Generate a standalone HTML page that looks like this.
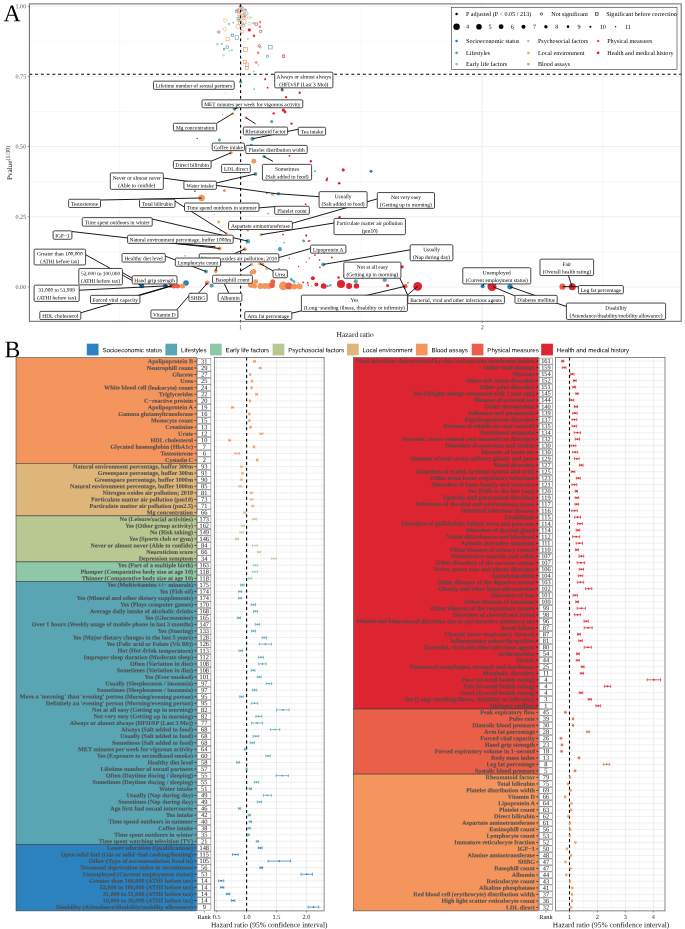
<!DOCTYPE html>
<html><head><meta charset="utf-8"><title>Figure</title><style>html,body{margin:0;padding:0;background:#fff}body{width:685px;height:929px;overflow:hidden;font-family:"Liberation Serif",serif}</style></head><body>
<svg width="685" height="929" viewBox="0 0 685 929" text-rendering="geometricPrecision" style="display:block;font-family:'Liberation Serif',serif">
<rect width="685" height="929" fill="#fff"/>
<g opacity="0.999">
<g id="panelA">
<rect x="29.4" y="3.9" width="651.8000000000001" height="317.40000000000003" fill="#fff"/>
<path d="M29.4 251.82H681.2M29.4 181.67H681.2M29.4 111.52H681.2M29.4 41.37H681.2M119.80 3.9V321.3M361.40 3.9V321.3M603.00 3.9V321.3" stroke="#efefef" stroke-width="0.45" fill="none"/>
<path d="M29.4 286.90H681.2M29.4 216.75H681.2M29.4 146.60H681.2M29.4 76.45H681.2M29.4 6.30H681.2M240.60 3.9V321.3M482.20 3.9V321.3" stroke="#e6e6e6" stroke-width="0.65" fill="none"/>
<path d="M27.7 286.90h1.7M27.7 216.75h1.7M27.7 146.60h1.7M27.7 76.45h1.7M27.7 6.30h1.7M240.60 321.3v1.7M482.20 321.3v1.7" stroke="#333" stroke-width="0.5" fill="none"/>
<text transform="matrix(1 .0006 0 1 26.2 288.90)" font-size="6.15" text-anchor="end" fill="#4d4d4d">0.00</text>
<text transform="matrix(1 .0006 0 1 26.2 218.75)" font-size="6.15" text-anchor="end" fill="#4d4d4d">0.25</text>
<text transform="matrix(1 .0006 0 1 26.2 148.60)" font-size="6.15" text-anchor="end" fill="#4d4d4d">0.50</text>
<text transform="matrix(1 .0006 0 1 26.2 78.45)" font-size="6.15" text-anchor="end" fill="#4d4d4d">0.75</text>
<text transform="matrix(1 .0006 0 1 26.2 8.30)" font-size="6.15" text-anchor="end" fill="#4d4d4d">1.00</text>
<text transform="matrix(1 .0006 0 1 240.60 329.2)" font-size="6.15" text-anchor="middle" fill="#4d4d4d">1</text>
<text transform="matrix(1 .0006 0 1 482.20 329.2)" font-size="6.15" text-anchor="middle" fill="#4d4d4d">2</text>
<text transform="matrix(1 .0006 0 1 336.5 337)" font-size="7.5" fill="#111">Hazard ratio</text>
<text transform="matrix(.0006 -1 1 0 12.1 180.1)" font-size="7.2" fill="#111">Pvalue<tspan dy="-2.3" font-size="6.0">(1/30)</tspan></text>
<text transform="matrix(1 .0006 0 1 3.6 21.2)" font-size="23.8" fill="#000">A</text>
<g fill="none" stroke-width="0.62"><circle cx="245.5" cy="9.9" r="0.90" stroke="#dc2530"/><rect x="235.25" y="10.15" width="2.50" height="2.50" stroke="#5aa5b3"/><rect x="236.95" y="17.45" width="2.50" height="2.50" stroke="#5aa5b3"/><circle cx="239.1" cy="14.6" r="1.70" stroke="#f4955d"/><circle cx="246.4" cy="13.6" r="1.70" stroke="#5aa5b3"/><circle cx="243.8" cy="21.9" r="2.70" stroke="#f4955d"/><circle cx="238.2" cy="26.3" r="2.20" stroke="#f4955d"/><circle cx="242.3" cy="31.4" r="1.70" stroke="#f4955d"/><circle cx="225.3" cy="20.4" r="1.70" stroke="#deb67a"/><circle cx="224.8" cy="29.2" r="1.70" stroke="#deb67a"/><circle cx="229.2" cy="24.1" r="0.90" stroke="#5aa5b3"/><circle cx="233.3" cy="22.6" r="0.70" stroke="#5aa5b3"/><circle cx="249.6" cy="23.8" r="1.70" stroke="#b9c791"/><circle cx="248.6" cy="17.8" r="1.20" stroke="#b9c791"/><circle cx="251.1" cy="17.5" r="0.90" stroke="#b9c791"/><circle cx="253.6" cy="23.1" r="0.90" stroke="#5aa5b3"/><circle cx="256.2" cy="24.1" r="1.50" stroke="#dc2530"/><circle cx="260.1" cy="22.2" r="0.90" stroke="#dc2530"/><circle cx="259.9" cy="26.7" r="0.90" stroke="#dc2530"/><circle cx="260.6" cy="31.4" r="1.20" stroke="#dc2530"/><circle cx="218.7" cy="32.1" r="1.20" stroke="#dc2530"/><rect x="231.15" y="34.05" width="2.50" height="2.50" stroke="#2b82be"/><rect x="235.15" y="35.75" width="3.50" height="3.50" stroke="#5aa5b3"/><rect x="225.95" y="37.25" width="3.50" height="3.50" stroke="#deb67a"/><rect x="247.30" y="38.50" width="1.20" height="1.20" stroke="#b9c791"/><circle cx="217.5" cy="44.2" r="0.90" stroke="#5aa5b3"/><rect x="221.30" y="43.20" width="1.20" height="1.20" stroke="#5aa5b3"/><rect x="226.05" y="45.95" width="2.50" height="2.50" stroke="#5aa5b3"/><rect x="223.35" y="48.55" width="1.50" height="1.50" stroke="#5aa5b3"/><circle cx="229.2" cy="50.7" r="0.70" stroke="#b9c791"/><circle cx="231.8" cy="50.1" r="0.60" stroke="#5aa5b3"/><circle cx="223.4" cy="55.2" r="0.90" stroke="#b9c791"/><rect x="243.50" y="47.30" width="4.00" height="4.00" stroke="#f4955d"/><circle cx="259.1" cy="45.7" r="1.20" stroke="#dc2530"/><circle cx="260.3" cy="47.2" r="0.90" stroke="#5aa5b3"/><rect x="268.65" y="45.45" width="3.50" height="3.50" stroke="#5aa5b3"/><circle cx="258.1" cy="52.8" r="0.90" stroke="#dc2530"/><rect x="266.40" y="55.20" width="2.00" height="2.00" stroke="#5aa5b3"/><rect x="282.25" y="54.95" width="2.50" height="2.50" stroke="#dc2530"/><rect x="243.30" y="60.30" width="3.00" height="3.00" stroke="#f4955d"/><rect x="245.25" y="62.95" width="3.50" height="3.50" stroke="#f4955d"/><rect x="245.50" y="66.40" width="3.00" height="3.00" stroke="#f4955d"/><circle cx="256.2" cy="62.5" r="0.90" stroke="#dc2530"/><circle cx="258.4" cy="65" r="0.70" stroke="#b9c791"/><circle cx="253.7" cy="71.5" r="0.70" stroke="#8fc8a7"/><circle cx="240.3" cy="9.5" r="1.90" stroke="#f4955d"/><circle cx="241.5" cy="12.5" r="2.20" stroke="#f4955d"/><circle cx="242.5" cy="8.8" r="1.50" stroke="#5aa5b3"/><circle cx="241.8" cy="7.5" r="1.20" stroke="#8fc8a7"/><rect x="238.00" y="9.00" width="3.00" height="3.00" stroke="#f4955d"/><circle cx="237.2" cy="10.2" r="1.20" stroke="#5aa5b3"/><circle cx="240.5" cy="17" r="2.20" stroke="#f4955d"/><rect x="238.00" y="19.50" width="2.00" height="2.00" stroke="#5aa5b3"/><circle cx="244.5" cy="17.5" r="1.70" stroke="#f4955d"/><circle cx="244.2" cy="14.2" r="1.20" stroke="#5aa5b3"/><circle cx="242.2" cy="10.5" r="1.00" stroke="#8fc8a7"/><circle cx="243" cy="25.5" r="1.70" stroke="#5aa5b3"/><circle cx="241" cy="23.5" r="2.70" stroke="#f4955d"/><circle cx="240.2" cy="6.8" r="1.20" stroke="#f4955d"/><circle cx="244.5" cy="16.5" r="0.70" stroke="#dc2530"/></g>
<g><circle cx="240.1" cy="6.1" r="0.90" fill="#dc2530"/><circle cx="249.3" cy="29.9" r="1.60" fill="#dc2530"/><circle cx="254" cy="35.8" r="1.20" fill="#dc2530"/><circle cx="265.3" cy="78.8" r="0.90" fill="#dc2530"/><circle cx="240.7" cy="81.9" r="1.70" fill="#5aa5b3"/><circle cx="282.2" cy="90.1" r="1.70" fill="#5aa5b3"/><circle cx="234.3" cy="109.1" r="1.70" fill="#5aa5b3"/><circle cx="232.8" cy="113.4" r="1.50" fill="#deb67a"/><circle cx="246" cy="117.8" r="1.50" fill="#f4955d"/><circle cx="252.4" cy="138.8" r="2.10" fill="#5aa5b3"/><circle cx="251.2" cy="145.5" r="1.70" fill="#5aa5b3"/><circle cx="264.1" cy="156.4" r="1.70" fill="#5aa5b3"/><circle cx="253.8" cy="161.2" r="2.40" fill="#f4955d"/><circle cx="231.1" cy="152.8" r="1.60" fill="#f4955d"/><circle cx="255.5" cy="173.9" r="1.90" fill="#5aa5b3"/><circle cx="265" cy="79.6" r="0.80" fill="#dc2530"/><circle cx="267.6" cy="87.7" r="0.90" fill="#dc2530"/><circle cx="254.2" cy="89.2" r="0.90" fill="#8fc8a7"/><circle cx="299.7" cy="92.7" r="1.20" fill="#dc2530"/><circle cx="286" cy="97.1" r="1.20" fill="#dc2530"/><circle cx="225.3" cy="93" r="0.60" fill="#b9c791"/><circle cx="283.4" cy="110.2" r="1.60" fill="#dc2530"/><circle cx="285.1" cy="112" r="1.40" fill="#dc2530"/><circle cx="273.7" cy="113.4" r="1.20" fill="#dc2530"/><circle cx="271.7" cy="121.6" r="1.60" fill="#5aa5b3"/><circle cx="291.5" cy="123.6" r="1.20" fill="#dc2530"/><circle cx="197.2" cy="138.5" r="0.80" fill="#dc2530"/><circle cx="219.4" cy="140" r="1.60" fill="#5aa5b3"/><circle cx="222.6" cy="114.6" r="0.50" fill="#5aa5b3"/><circle cx="289.5" cy="155.8" r="0.90" fill="#dc2530"/><circle cx="310.8" cy="161.3" r="1.20" fill="#dc2530"/><circle cx="314.9" cy="171.2" r="0.90" fill="#5aa5b3"/><circle cx="327.2" cy="178.2" r="0.90" fill="#dc2530"/><circle cx="216.8" cy="150.8" r="0.60" fill="#5aa5b3"/><circle cx="230.8" cy="152.9" r="1.40" fill="#f4955d"/><circle cx="343.2" cy="169.9" r="1.60" fill="#dc2530"/><circle cx="371" cy="171.3" r="1.50" fill="#2b82be"/><circle cx="326.7" cy="180" r="1.20" fill="#dc2530"/><circle cx="339.2" cy="183.2" r="1.30" fill="#dc2530"/><circle cx="274" cy="181.5" r="0.80" fill="#8fc8a7"/><circle cx="266.7" cy="193.2" r="0.90" fill="#5aa5b3"/><circle cx="272.6" cy="194.4" r="1.70" fill="#b9c791"/><circle cx="278.4" cy="193.8" r="1.70" fill="#5aa5b3"/><circle cx="224.4" cy="190.5" r="1.50" fill="#f4955d"/><circle cx="194.9" cy="191.2" r="0.90" fill="#2b82be"/><circle cx="201.6" cy="198" r="3.20" fill="#f4955d"/><circle cx="214.2" cy="214.6" r="0.50" fill="#5aa5b3"/><circle cx="208.9" cy="217.8" r="0.50" fill="#5aa5b3"/><circle cx="218.6" cy="221.9" r="1.60" fill="#deb67a"/><circle cx="220.6" cy="231" r="0.90" fill="#deb67a"/><circle cx="305.6" cy="204.2" r="0.90" fill="#dc2530"/><circle cx="268.2" cy="213.6" r="0.80" fill="#5aa5b3"/><circle cx="339.6" cy="217.3" r="1.30" fill="#dc2530"/><circle cx="226.4" cy="233.6" r="1.40" fill="#f4955d"/><circle cx="247.7" cy="230.3" r="1.30" fill="#f4955d"/><circle cx="260.9" cy="234.7" r="1.60" fill="#deb67a"/><circle cx="283.0" cy="234.6" r="0.90" fill="#dc2530"/><circle cx="306.4" cy="235.7" r="0.90" fill="#dc2530"/><circle cx="308.6" cy="241.1" r="0.90" fill="#dc2530"/><circle cx="304" cy="241.1" r="1.20" fill="#5aa5b3"/><circle cx="247.9" cy="241.2" r="2.20" fill="#5aa5b3"/><circle cx="219.6" cy="248.6" r="2.00" fill="#f4955d"/><circle cx="214.8" cy="246.7" r="1.50" fill="#deb67a"/><circle cx="244.8" cy="249.2" r="1.90" fill="#f4955d"/><circle cx="279.9" cy="249.2" r="2.10" fill="#5aa5b3"/><circle cx="246.3" cy="243.8" r="0.50" fill="#5aa5b3"/><circle cx="245.5" cy="249.3" r="0.50" fill="#5aa5b3"/><circle cx="276.4" cy="241.1" r="0.50" fill="#8fc8a7"/><circle cx="314.9" cy="255.1" r="0.90" fill="#dc2530"/><circle cx="331.8" cy="257.4" r="0.90" fill="#dc2530"/><circle cx="319.6" cy="260.1" r="0.80" fill="#dc2530"/><circle cx="309.2" cy="258.3" r="0.70" fill="#dc2530"/><circle cx="306.2" cy="262.1" r="0.70" fill="#dc2530"/><circle cx="289.3" cy="258.3" r="0.70" fill="#dc2530"/><circle cx="298.6" cy="266.5" r="0.70" fill="#dc2530"/><circle cx="279" cy="268.8" r="0.70" fill="#dc2530"/><circle cx="306.2" cy="235.3" r="0.90" fill="#dc2530"/><circle cx="309.7" cy="240.8" r="0.80" fill="#dc2530"/><circle cx="303.3" cy="240.8" r="1.20" fill="#5aa5b3"/><circle cx="284" cy="242.6" r="0.80" fill="#5aa5b3"/><circle cx="311.5" cy="175.5" r="0.70" fill="#dc2530"/><circle cx="323.2" cy="264.5" r="2.10" fill="#5aa5b3"/><circle cx="319.9" cy="267.4" r="0.80" fill="#dc2530"/><circle cx="206" cy="271.6" r="2.00" fill="#5aa5b3"/><circle cx="215.7" cy="271.1" r="2.00" fill="#f4955d"/><circle cx="253.6" cy="271.6" r="2.70" fill="#f4955d"/><circle cx="251.6" cy="272.4" r="2.00" fill="#f4955d"/><circle cx="251.3" cy="264.5" r="1.60" fill="#f4955d"/><circle cx="259.9" cy="263.7" r="1.70" fill="#f4955d"/><circle cx="262.7" cy="264.2" r="1.50" fill="#f4955d"/><circle cx="266.5" cy="268.8" r="1.30" fill="#deb67a"/><circle cx="185" cy="255.8" r="0.60" fill="#dc2530"/><circle cx="141.8" cy="285.8" r="2.50" fill="#2b82be"/><circle cx="165.2" cy="285.8" r="2.10" fill="#2b82be"/><circle cx="186.0" cy="283.0" r="2.80" fill="#2b82be"/><circle cx="171" cy="285.9" r="2.10" fill="#e95f47"/><circle cx="174" cy="286.2" r="2.30" fill="#e95f47"/><circle cx="177.7" cy="286.2" r="2.40" fill="#e95f47"/><circle cx="182.6" cy="286" r="2.50" fill="#f4955d"/><circle cx="207.3" cy="282.8" r="2.30" fill="#f4955d"/><circle cx="206.2" cy="283.6" r="1.40" fill="#e95f47"/><circle cx="211.6" cy="285.6" r="2.10" fill="#5aa5b3"/><circle cx="251.0" cy="284.7" r="3.10" fill="#f4955d"/><circle cx="255.7" cy="281.7" r="2.40" fill="#f4955d"/><circle cx="254.5" cy="286.1" r="2.50" fill="#f4955d"/><circle cx="260.4" cy="285.9" r="3.00" fill="#f4955d"/><circle cx="265.0" cy="285.9" r="3.00" fill="#f4955d"/><circle cx="269.2" cy="285.9" r="3.00" fill="#f4955d"/><circle cx="272.7" cy="281.7" r="2.50" fill="#e95f47"/><circle cx="272.0" cy="285.2" r="2.80" fill="#e95f47"/><circle cx="283.3" cy="285.9" r="4.30" fill="#f4955d"/><circle cx="288.9" cy="285.9" r="3.50" fill="#e95f47"/><circle cx="294.2" cy="286.4" r="3.00" fill="#f4955d"/><circle cx="299.6" cy="286.4" r="2.90" fill="#f4955d"/><circle cx="291.2" cy="279.4" r="1.40" fill="#5aa5b3"/><circle cx="292.6" cy="280.6" r="1.20" fill="#5aa5b3"/><circle cx="294.2" cy="281.7" r="1.20" fill="#5aa5b3"/><circle cx="298.4" cy="282.9" r="0.60" fill="#5aa5b3"/><circle cx="303.1" cy="282.4" r="0.90" fill="#dc2530"/><circle cx="307.8" cy="282.9" r="0.90" fill="#dc2530"/><circle cx="308.3" cy="285.2" r="0.80" fill="#dc2530"/><circle cx="312.9" cy="278.2" r="2.00" fill="#dc2530"/><circle cx="311.8" cy="285.9" r="0.60" fill="#5aa5b3"/><circle cx="316.4" cy="284.5" r="2.00" fill="#dc2530"/><circle cx="324.6" cy="286.4" r="2.30" fill="#e95f47"/><circle cx="323.4" cy="285.9" r="2.60" fill="#dc2530"/><circle cx="327.6" cy="285.9" r="1.20" fill="#5aa5b3"/><circle cx="330.4" cy="285.2" r="1.20" fill="#5aa5b3"/><circle cx="338.6" cy="277.5" r="1.20" fill="#dc2530"/><circle cx="343.8" cy="275.9" r="0.70" fill="#dc2530"/><circle cx="341.0" cy="284.0" r="4.00" fill="#dc2530"/><circle cx="349.1" cy="285.9" r="3.00" fill="#dc2530"/><circle cx="356.4" cy="285.9" r="2.70" fill="#dc2530"/><circle cx="355.7" cy="281.3" r="2.00" fill="#5aa5b3"/><circle cx="384.7" cy="279.9" r="2.10" fill="#5aa5b3"/><circle cx="387.6" cy="285.4" r="1.50" fill="#dc2530"/><circle cx="402.2" cy="266.8" r="1.60" fill="#dc2530"/><circle cx="408" cy="282.8" r="0.80" fill="#dc2530"/><circle cx="405.1" cy="286.3" r="2.40" fill="#e95f47"/><circle cx="417.7" cy="286.3" r="4.40" fill="#dc2530"/><circle cx="482.6" cy="286.3" r="2.00" fill="#2b82be"/><circle cx="492" cy="286.5" r="4.50" fill="#dc2530"/><circle cx="510" cy="286.7" r="2.70" fill="#2b82be"/><circle cx="562.5" cy="286.7" r="3.10" fill="#e95f47"/><circle cx="572.3" cy="286.7" r="3.50" fill="#dc2530"/></g>
<path d="M29.4 74.3H681.2" stroke="#000" stroke-width="1.1" stroke-dasharray="2.9 2.85" fill="none"/>
<path d="M240.6 3.9V321.3" stroke="#000" stroke-width="1.1" stroke-dasharray="2.9 2.85" fill="none"/>
<path d="M282 87.7L282.2 90.1M238 107.6L234.3 109.1M216.5 123.4L232.8 113.4M255.6 123.8L246 117.8M298.5 129.2L252.4 138.8M210.9 161.3L231.1 152.8M272.9 161.3L263.8 156.4M216.2 183L255.6 173.9M163.1 178L278.4 194.0M258.8 207.9L276 206.5M100.3 200L201.6 198M174.8 201L226.4 233.5M152 219L247.8 241.1M71.7 231.5L219.7 248.5M171 243.2L214.8 246.7M85.4 254.6L141.8 285.8M122.2 272.5L143.5 284.5M79 290.2L168.1 285.8M137.4 295.5L171 285.8M79.9 313L172.4 285.8M198.3 293.4L207.6 282.9M176.5 310.1L191.5 292.8M165.1 256.1L206 271.5M216.6 266.1L215.9 271.0M233.8 253.9L244.9 249M310.8 248.5L279 257.5M273.2 271L260.1 263.6M240.3 271.2L250.8 264.7M228.8 293.4L224.5 284M291.6 313.2L405.1 286.3M407.2 295.3L417.7 286.3M408 295.8L399.3 277M319.3 196.7L278.4 193.8M377.5 198.8L281.7 226.3M334.2 223L260.9 234.7M410.4 249.8L323.4 264.4M484 283.8L482.6 286.1M515.2 296L492.9 286.7M568.4 275.4L571.8 286.1M578.6 286.7L562.5 286.7M566.6 306.6L510 286.7" stroke="#000" stroke-width="0.9" fill="none"/>
<g font-size="5.42" text-anchor="middle" fill="#000"><rect x="153.50" y="81.15" width="80.70" height="8.20" rx="1.1" fill="#fff" stroke="#1a1a1a" stroke-width="0.8"/><text transform="matrix(1 .0006 0 1 193.85 87.60)">Lifetime number of sexual partners</text><rect x="274.70" y="72.15" width="58.20" height="15.70" rx="1.1" fill="#fff" stroke="#1a1a1a" stroke-width="0.8"/><text transform="matrix(1 .0006 0 1 303.80 78.55)">Always or almost always</text><text transform="matrix(1 .0006 0 1 303.80 86.15)">(HFD/SP (Last 3 Mo))</text><rect x="202.00" y="99.85" width="100.80" height="7.90" rx="1.1" fill="#fff" stroke="#1a1a1a" stroke-width="0.8"/><text transform="matrix(1 .0006 0 1 252.40 106.15)">MET minutes per week for vigorous activity</text><rect x="173.40" y="123.25" width="43.30" height="7.60" rx="1.1" fill="#fff" stroke="#1a1a1a" stroke-width="0.8"/><text transform="matrix(1 .0006 0 1 195.05 129.40)">Mg concentration</text><rect x="243.40" y="127.05" width="44.20" height="7.80" rx="1.1" fill="#fff" stroke="#1a1a1a" stroke-width="0.8"/><text transform="matrix(1 .0006 0 1 265.50 133.30)">Rheumatoid factor</text><rect x="298.30" y="127.25" width="27.30" height="7.90" rx="1.1" fill="#fff" stroke="#1a1a1a" stroke-width="0.8"/><text transform="matrix(1 .0006 0 1 311.95 133.55)">Tea intake</text><rect x="212.20" y="143.05" width="32.20" height="7.60" rx="1.1" fill="#fff" stroke="#1a1a1a" stroke-width="0.8"/><text transform="matrix(1 .0006 0 1 228.30 149.20)">Coffee intake</text><rect x="245.80" y="145.35" width="61.40" height="8.20" rx="1.1" fill="#fff" stroke="#1a1a1a" stroke-width="0.8"/><text transform="matrix(1 .0006 0 1 276.50 151.80)">Platelet distribution width</text><rect x="173.40" y="160.55" width="37.70" height="7.90" rx="1.1" fill="#fff" stroke="#1a1a1a" stroke-width="0.8"/><text transform="matrix(1 .0006 0 1 192.25 166.85)">Direct bilirubin</text><rect x="221.60" y="164.35" width="28.70" height="8.20" rx="1.1" fill="#fff" stroke="#1a1a1a" stroke-width="0.8"/><text transform="matrix(1 .0006 0 1 235.95 170.80)">LDL direct</text><rect x="262.40" y="164.35" width="49.20" height="15.80" rx="1.1" fill="#fff" stroke="#1a1a1a" stroke-width="0.8"/><text transform="matrix(1 .0006 0 1 287.00 170.80)">Sometimes</text><text transform="matrix(1 .0006 0 1 287.00 178.40)">(Salt added to food)</text><rect x="110.30" y="172.95" width="53.00" height="16.40" rx="1.1" fill="#fff" stroke="#1a1a1a" stroke-width="0.8"/><text transform="matrix(1 .0006 0 1 136.80 179.70)">Never or almost never</text><text transform="matrix(1 .0006 0 1 136.80 187.30)">(Able to confide)</text><rect x="183.90" y="181.15" width="32.50" height="8.20" rx="1.1" fill="#fff" stroke="#1a1a1a" stroke-width="0.8"/><text transform="matrix(1 .0006 0 1 200.15 187.60)">Water intake</text><rect x="68.60" y="199.25" width="31.90" height="8.20" rx="1.1" fill="#fff" stroke="#1a1a1a" stroke-width="0.8"/><text transform="matrix(1 .0006 0 1 84.55 205.70)">Testosterone</text><rect x="139.50" y="199.25" width="35.50" height="8.20" rx="1.1" fill="#fff" stroke="#1a1a1a" stroke-width="0.8"/><text transform="matrix(1 .0006 0 1 157.25 205.70)">Total bilirubin</text><rect x="184.50" y="203.05" width="74.50" height="8.30" rx="1.1" fill="#fff" stroke="#1a1a1a" stroke-width="0.8"/><text transform="matrix(1 .0006 0 1 221.75 209.55)">Time spend outdoors in summer</text><rect x="82.30" y="217.65" width="69.90" height="8.50" rx="1.1" fill="#fff" stroke="#1a1a1a" stroke-width="0.8"/><text transform="matrix(1 .0006 0 1 117.25 224.25)">Time spent outdoors in winter</text><rect x="53.10" y="230.85" width="18.80" height="8.40" rx="1.1" fill="#fff" stroke="#1a1a1a" stroke-width="0.8"/><text transform="matrix(1 .0006 0 1 62.50 237.40)">IGF−1</text><rect x="127.60" y="235.15" width="105.60" height="8.20" rx="1.1" fill="#fff" stroke="#1a1a1a" stroke-width="0.8"/><text transform="matrix(1 .0006 0 1 180.40 241.60)">Natural environment percentage, buffer 1000m</text><rect x="34.10" y="249.15" width="51.50" height="15.80" rx="1.1" fill="#fff" stroke="#1a1a1a" stroke-width="0.8"/><text transform="matrix(1 .0006 0 1 59.85 255.60)">Greater than 100,000</text><text transform="matrix(1 .0006 0 1 59.85 263.20)">(ATHI before tax)</text><rect x="122.00" y="253.55" width="43.30" height="8.50" rx="1.1" fill="#fff" stroke="#1a1a1a" stroke-width="0.8"/><text transform="matrix(1 .0006 0 1 143.65 260.15)">Healthy diet level</text><rect x="199.20" y="253.75" width="79.60" height="8.10" rx="1.1" fill="#fff" stroke="#1a1a1a" stroke-width="0.8"/><text transform="matrix(1 .0006 0 1 239.00 260.15)">Nitrogen oxides air pollution; 2010</text><rect x="175.30" y="258.05" width="45.30" height="8.20" rx="1.1" fill="#fff" stroke="#1a1a1a" stroke-width="0.8"/><text transform="matrix(1 .0006 0 1 197.95 264.50)">Lymphocyte count</text><rect x="78.80" y="268.45" width="43.60" height="16.40" rx="1.1" fill="#fff" stroke="#1a1a1a" stroke-width="0.8"/><text transform="matrix(1 .0006 0 1 100.60 275.20)">52,000 to 100,000</text><text transform="matrix(1 .0006 0 1 100.60 282.80)">(ATHI before tax)</text><rect x="132.20" y="275.75" width="44.80" height="8.20" rx="1.1" fill="#fff" stroke="#1a1a1a" stroke-width="0.8"/><text transform="matrix(1 .0006 0 1 154.60 282.20)">Hand grip strength</text><rect x="34.10" y="285.15" width="45.10" height="16.30" rx="1.1" fill="#fff" stroke="#1a1a1a" stroke-width="0.8"/><text transform="matrix(1 .0006 0 1 56.65 291.85)">31,000 to 51,999</text><text transform="matrix(1 .0006 0 1 56.65 299.45)">(ATHI before tax)</text><rect x="90.50" y="295.35" width="49.40" height="8.20" rx="1.1" fill="#fff" stroke="#1a1a1a" stroke-width="0.8"/><text transform="matrix(1 .0006 0 1 115.20 301.80)">Forced vital capacity</text><rect x="39.80" y="311.35" width="41.00" height="8.20" rx="1.1" fill="#fff" stroke="#1a1a1a" stroke-width="0.8"/><text transform="matrix(1 .0006 0 1 60.30 317.80)">HDL cholesterol</text><rect x="188.90" y="293.25" width="18.20" height="8.20" rx="1.1" fill="#fff" stroke="#1a1a1a" stroke-width="0.8"/><text transform="matrix(1 .0006 0 1 198.00 299.70)">SHBG</text><rect x="150.90" y="309.95" width="27.00" height="8.20" rx="1.1" fill="#fff" stroke="#1a1a1a" stroke-width="0.8"/><text transform="matrix(1 .0006 0 1 164.40 316.40)">Vitamin D</text><rect x="310.60" y="245.05" width="35.30" height="8.10" rx="1.1" fill="#fff" stroke="#1a1a1a" stroke-width="0.8"/><text transform="matrix(1 .0006 0 1 328.25 251.45)">Lipoprotein A</text><rect x="273.00" y="269.85" width="14.40" height="7.90" rx="1.1" fill="#fff" stroke="#1a1a1a" stroke-width="0.8"/><text transform="matrix(1 .0006 0 1 280.20 276.15)">Urea</text><rect x="212.60" y="275.15" width="39.80" height="8.10" rx="1.1" fill="#fff" stroke="#1a1a1a" stroke-width="0.8"/><text transform="matrix(1 .0006 0 1 232.50 281.55)">Basophill count</text><rect x="218.10" y="293.25" width="23.80" height="8.10" rx="1.1" fill="#fff" stroke="#1a1a1a" stroke-width="0.8"/><text transform="matrix(1 .0006 0 1 230.00 299.65)">Albumin</text><rect x="244.70" y="311.65" width="47.10" height="7.80" rx="1.1" fill="#fff" stroke="#1a1a1a" stroke-width="0.8"/><text transform="matrix(1 .0006 0 1 268.25 317.90)">Arm fat percentage</text><rect x="301.40" y="295.15" width="106.00" height="16.30" rx="1.1" fill="#fff" stroke="#1a1a1a" stroke-width="0.8"/><text transform="matrix(1 .0006 0 1 354.40 301.85)">Yes</text><text transform="matrix(1 .0006 0 1 354.40 309.45)">(Long−standing illness, disability or infirmity)</text><rect x="343.80" y="262.15" width="57.10" height="16.10" rx="1.1" fill="#fff" stroke="#1a1a1a" stroke-width="0.8"/><text transform="matrix(1 .0006 0 1 372.35 268.75)">Not at all easy</text><text transform="matrix(1 .0006 0 1 372.35 276.35)">(Getting up in morning)</text><rect x="319.10" y="191.65" width="48.00" height="16.00" rx="1.1" fill="#fff" stroke="#1a1a1a" stroke-width="0.8"/><text transform="matrix(1 .0006 0 1 343.10 198.20)">Usually</text><text transform="matrix(1 .0006 0 1 343.10 205.80)">(Salt added to food)</text><rect x="377.30" y="192.55" width="57.20" height="15.80" rx="1.1" fill="#fff" stroke="#1a1a1a" stroke-width="0.8"/><text transform="matrix(1 .0006 0 1 405.90 199.00)">Not very easy</text><text transform="matrix(1 .0006 0 1 405.90 206.60)">(Getting up in morning)</text><rect x="274.70" y="206.25" width="34.60" height="8.10" rx="1.1" fill="#fff" stroke="#1a1a1a" stroke-width="0.8"/><text transform="matrix(1 .0006 0 1 292.00 212.65)">Platelet count</text><rect x="228.60" y="221.35" width="63.70" height="8.20" rx="1.1" fill="#fff" stroke="#1a1a1a" stroke-width="0.8"/><text transform="matrix(1 .0006 0 1 260.45 227.80)">Aspartate aminotransferase</text><rect x="334.00" y="218.45" width="71.40" height="16.20" rx="1.1" fill="#fff" stroke="#1a1a1a" stroke-width="0.8"/><text transform="matrix(1 .0006 0 1 369.70 225.10)">Particulate matter air pollution</text><text transform="matrix(1 .0006 0 1 369.70 232.70)">(pm10)</text><rect x="410.20" y="244.75" width="42.70" height="16.00" rx="1.1" fill="#fff" stroke="#1a1a1a" stroke-width="0.8"/><text transform="matrix(1 .0006 0 1 431.55 251.30)">Usually</text><text transform="matrix(1 .0006 0 1 431.55 258.90)">(Nap during day)</text><rect x="407.80" y="295.65" width="96.60" height="8.00" rx="1.1" fill="#fff" stroke="#1a1a1a" stroke-width="0.8"/><text transform="matrix(1 .0006 0 1 456.10 302.00)">Bacterial, viral and other infectious agents</text><rect x="462.80" y="267.75" width="68.00" height="16.20" rx="1.1" fill="#fff" stroke="#1a1a1a" stroke-width="0.8"/><text transform="matrix(1 .0006 0 1 496.80 274.40)">Unemployed</text><text transform="matrix(1 .0006 0 1 496.80 282.00)">(Current employment status)</text><rect x="515.00" y="295.35" width="42.20" height="8.00" rx="1.1" fill="#fff" stroke="#1a1a1a" stroke-width="0.8"/><text transform="matrix(1 .0006 0 1 536.10 301.70)">Diabetes mellitus</text><rect x="540.00" y="259.15" width="53.60" height="16.40" rx="1.1" fill="#fff" stroke="#1a1a1a" stroke-width="0.8"/><text transform="matrix(1 .0006 0 1 566.80 265.90)">Fair</text><text transform="matrix(1 .0006 0 1 566.80 273.50)">(Overall health rating)</text><rect x="578.40" y="285.55" width="45.00" height="8.20" rx="1.1" fill="#fff" stroke="#1a1a1a" stroke-width="0.8"/><text transform="matrix(1 .0006 0 1 600.90 292.00)">Leg fat percentage</text><rect x="566.40" y="303.05" width="99.20" height="16.40" rx="1.1" fill="#fff" stroke="#1a1a1a" stroke-width="0.8"/><text transform="matrix(1 .0006 0 1 616.00 309.80)">Disability</text><text transform="matrix(1 .0006 0 1 616.00 317.40)">(Attendance/disability/mobility allowance)</text></g>
<rect x="451.3" y="7.7" width="225.7" height="61.7" fill="#fff" stroke="#222" stroke-width="0.55"/>
<g font-size="6.15" fill="#000"><circle cx="456.6" cy="14" r="1.2" fill="#000"/><circle cx="541.4" cy="14" r="1.25" fill="none" stroke="#000" stroke-width="0.6"/><rect x="595.4" y="12.8" width="2.7" height="2.4" fill="none" stroke="#000" stroke-width="0.6"/><text transform="matrix(1 .0006 0 1 466 16)">P adjusted (P &lt; 0.05 / 213)</text><text transform="matrix(1 .0006 0 1 551.2 16)">Not significant</text><text transform="matrix(1 .0006 0 1 606.2 16)">Significant before correction</text><circle cx="456.6" cy="26.7" r="3.2" fill="#000"/><text transform="matrix(1 .0006 0 1 466 28.7)">4</text><circle cx="479" cy="26.7" r="2.8" fill="#000"/><text transform="matrix(1 .0006 0 1 488.5 28.7)">5</text><circle cx="501.1" cy="26.7" r="2.4" fill="#000"/><text transform="matrix(1 .0006 0 1 510.8 28.7)">6</text><circle cx="523.5" cy="26.7" r="2.05" fill="#000"/><text transform="matrix(1 .0006 0 1 533 28.7)">7</text><circle cx="545.9" cy="26.7" r="1.7" fill="#000"/><text transform="matrix(1 .0006 0 1 555.3 28.7)">8</text><circle cx="568" cy="26.7" r="1.35" fill="#000"/><text transform="matrix(1 .0006 0 1 577.5 28.7)">9</text><circle cx="590.4" cy="26.7" r="1.05" fill="#000"/><text transform="matrix(1 .0006 0 1 599.8 28.7)">10</text><circle cx="615.6" cy="26.7" r="0.65" fill="#000"/><text transform="matrix(1 .0006 0 1 624.9 28.7)">11</text><circle cx="456.6" cy="41.0" r="1.35" fill="#2b82be"/><text transform="matrix(1 .0006 0 1 466 43.0)">Socioeconomic status</text><circle cx="528.4" cy="41.0" r="1.35" fill="#b9c791"/><text transform="matrix(1 .0006 0 1 537.9 43.0)">Psychosocial factors</text><circle cx="598.1" cy="41.0" r="1.35" fill="#e95f47"/><text transform="matrix(1 .0006 0 1 607.2 43.0)">Physical measures</text><circle cx="456.6" cy="52.9" r="1.35" fill="#5aa5b3"/><text transform="matrix(1 .0006 0 1 466 54.9)">Lifestyles</text><circle cx="528.4" cy="52.9" r="1.35" fill="#deb67a"/><text transform="matrix(1 .0006 0 1 537.9 54.9)">Local environment</text><circle cx="598.1" cy="52.9" r="1.35" fill="#dc2530"/><text transform="matrix(1 .0006 0 1 607.2 54.9)">Health and medical history</text><circle cx="456.6" cy="64.1" r="1.35" fill="#8fc8a7"/><text transform="matrix(1 .0006 0 1 466 66.1)">Early life factors</text><circle cx="528.4" cy="64.1" r="1.35" fill="#f4955d"/><text transform="matrix(1 .0006 0 1 537.9 66.1)">Blood assays</text></g>
<rect x="29.4" y="3.9" width="651.8000000000001" height="317.40000000000003" fill="none" stroke="#666" stroke-width="1"/>
</g>
<g id="panelB">
<text transform="matrix(1 .0006 0 1 4.4 357.3)" font-size="23.8" fill="#000">B</text>
<rect x="86.8" y="343.7" width="11.7" height="11.7" fill="#2b82be"/>
<text transform="matrix(1 .0006 0 1 102.39999999999999 352.2)" font-size="6.13" font-family="'Liberation Sans',sans-serif" fill="#000">Socioeconomic status</text>
<rect x="165.4" y="343.7" width="11.7" height="11.7" fill="#5aa5b3"/>
<text transform="matrix(1 .0006 0 1 181.0 352.2)" font-size="6.13" font-family="'Liberation Sans',sans-serif" fill="#000">Lifestyles</text>
<rect x="210.0" y="343.7" width="11.7" height="11.7" fill="#8fc8a7"/>
<text transform="matrix(1 .0006 0 1 225.6 352.2)" font-size="6.13" font-family="'Liberation Sans',sans-serif" fill="#000">Early life factors</text>
<rect x="272.6" y="343.7" width="11.7" height="11.7" fill="#b9c791"/>
<text transform="matrix(1 .0006 0 1 288.20000000000005 352.2)" font-size="6.13" font-family="'Liberation Sans',sans-serif" fill="#000">Psychosocial factors</text>
<rect x="347.0" y="343.7" width="11.7" height="11.7" fill="#deb67a"/>
<text transform="matrix(1 .0006 0 1 362.6 352.2)" font-size="6.13" font-family="'Liberation Sans',sans-serif" fill="#000">Local environment</text>
<rect x="415.9" y="343.7" width="11.7" height="11.7" fill="#f4955d"/>
<text transform="matrix(1 .0006 0 1 431.5 352.2)" font-size="6.13" font-family="'Liberation Sans',sans-serif" fill="#000">Blood assays</text>
<rect x="471.7" y="343.7" width="11.7" height="11.7" fill="#e95f47"/>
<text transform="matrix(1 .0006 0 1 487.3 352.2)" font-size="6.13" font-family="'Liberation Sans',sans-serif" fill="#000">Physical measures</text>
<rect x="541.2" y="343.7" width="11.7" height="11.7" fill="#dc2530"/>
<text transform="matrix(1 .0006 0 1 556.8000000000001 352.2)" font-size="6.13" font-family="'Liberation Sans',sans-serif" fill="#000">Health and medical history</text>
<rect x="214.3" y="357.6" width="109.80000000000001" height="553.3" fill="#fff"/>
<path d="M214.3 361.40H324.1M214.3 367.97H324.1M214.3 374.55H324.1M214.3 381.12H324.1M214.3 387.70H324.1M214.3 394.27H324.1M214.3 400.85H324.1M214.3 407.42H324.1M214.3 414.00H324.1M214.3 420.57H324.1M214.3 427.15H324.1M214.3 433.72H324.1M214.3 440.30H324.1M214.3 446.88H324.1M214.3 453.45H324.1M214.3 460.02H324.1M214.3 466.60H324.1M214.3 473.17H324.1M214.3 479.75H324.1M214.3 486.32H324.1M214.3 492.90H324.1M214.3 499.48H324.1M214.3 506.05H324.1M214.3 512.62H324.1M214.3 519.20H324.1M214.3 525.77H324.1M214.3 532.35H324.1M214.3 538.92H324.1M214.3 545.50H324.1M214.3 552.08H324.1M214.3 558.65H324.1M214.3 565.23H324.1M214.3 571.80H324.1M214.3 578.38H324.1M214.3 584.95H324.1M214.3 591.52H324.1M214.3 598.10H324.1M214.3 604.67H324.1M214.3 611.25H324.1M214.3 617.83H324.1M214.3 624.40H324.1M214.3 630.97H324.1M214.3 637.55H324.1M214.3 644.12H324.1M214.3 650.70H324.1M214.3 657.27H324.1M214.3 663.85H324.1M214.3 670.42H324.1M214.3 677.00H324.1M214.3 683.58H324.1M214.3 690.15H324.1M214.3 696.72H324.1M214.3 703.30H324.1M214.3 709.88H324.1M214.3 716.45H324.1M214.3 723.02H324.1M214.3 729.60H324.1M214.3 736.17H324.1M214.3 742.75H324.1M214.3 749.33H324.1M214.3 755.90H324.1M214.3 762.47H324.1M214.3 769.05H324.1M214.3 775.62H324.1M214.3 782.20H324.1M214.3 788.77H324.1M214.3 795.35H324.1M214.3 801.92H324.1M214.3 808.50H324.1M214.3 815.08H324.1M214.3 821.65H324.1M214.3 828.22H324.1M214.3 834.80H324.1M214.3 841.38H324.1M214.3 847.95H324.1M214.3 854.52H324.1M214.3 861.10H324.1M214.3 867.67H324.1M214.3 874.25H324.1M214.3 880.83H324.1M214.3 887.40H324.1M214.3 893.98H324.1M214.3 900.55H324.1M214.3 907.12H324.1" stroke="#e4e4e4" stroke-width="0.55" fill="none"/>
<path d="M231.66 357.6V910.9M261.54 357.6V910.9M291.41 357.6V910.9M321.29 357.6V910.9" stroke="#ececec" stroke-width="0.4" fill="none"/>
<path d="M216.72 357.6V910.9M246.60 357.6V910.9M276.48 357.6V910.9M306.35 357.6V910.9" stroke="#e2e2e2" stroke-width="0.6" fill="none"/>
<path d="M246.6 357.6V910.9" stroke="#000" stroke-width="1.1" stroke-dasharray="3 2.8" fill="none"/>
<rect x="16.0" y="357.60" width="180.3" height="105.71" fill="#f4955d" stroke="#3a3a3a" stroke-width="0.55"/>
<g font-size="6.12" font-weight="bold" text-anchor="end" fill="#55504d" stroke="#55504d" stroke-width="0.12"><text transform="matrix(1 .0006 0 1 193.0 363.35)">Apolipoprotein B</text><text transform="matrix(1 .0006 0 1 193.0 369.92)">Neutrophill count</text><text transform="matrix(1 .0006 0 1 193.0 376.50)">Glucose</text><text transform="matrix(1 .0006 0 1 193.0 383.07)">Urea</text><text transform="matrix(1 .0006 0 1 193.0 389.65)">White blood cell (leukocyte) count</text><text transform="matrix(1 .0006 0 1 193.0 396.22)">Triglycerides</text><text transform="matrix(1 .0006 0 1 193.0 402.80)">C−reactive protein</text><text transform="matrix(1 .0006 0 1 193.0 409.37)">Apolipoprotein A</text><text transform="matrix(1 .0006 0 1 193.0 415.95)">Gamma glutamyltransferase</text><text transform="matrix(1 .0006 0 1 193.0 422.52)">Monocyte count</text><text transform="matrix(1 .0006 0 1 193.0 429.10)">Creatinine</text><text transform="matrix(1 .0006 0 1 193.0 435.67)">Urate</text><text transform="matrix(1 .0006 0 1 193.0 442.25)">HDL cholesterol</text><text transform="matrix(1 .0006 0 1 193.0 448.82)">Glycated haemoglobin (HbA1c)</text><text transform="matrix(1 .0006 0 1 193.0 455.40)">Testosterone</text><text transform="matrix(1 .0006 0 1 193.0 461.97)">Cystatin C</text></g>
<path d="M194.4 361.40h1.9M194.4 367.97h1.9M194.4 374.55h1.9M194.4 381.12h1.9M194.4 387.70h1.9M194.4 394.27h1.9M194.4 400.85h1.9M194.4 407.42h1.9M194.4 414.00h1.9M194.4 420.57h1.9M194.4 427.15h1.9M194.4 433.72h1.9M194.4 440.30h1.9M194.4 446.88h1.9M194.4 453.45h1.9M194.4 460.02h1.9" stroke="#222" stroke-width="0.75"/>
<path d="M253.53 361.40H255.50M253.53 359.90v3M255.50 359.90v3M253.92 361.40a0.6 0.6 0 1 0 1.2 0a0.6 0.6 0 1 0 -1.2 0M259.25 367.97H261.22M259.25 366.47v3M261.22 366.47v3M259.63 367.97a0.6 0.6 0 1 0 1.2 0a0.6 0.6 0 1 0 -1.2 0M249.59 374.55H250.77M249.59 373.05v3M250.77 373.05v3M249.58 374.55a0.6 0.6 0 1 0 1.2 0a0.6 0.6 0 1 0 -1.2 0M251.17 381.12H252.75M251.17 379.62v3M252.75 379.62v3M251.36 381.12a0.6 0.6 0 1 0 1.2 0a0.6 0.6 0 1 0 -1.2 0M250.97 387.70H252.15M250.97 386.20v3M252.15 386.20v3M250.96 387.70a0.6 0.6 0 1 0 1.2 0a0.6 0.6 0 1 0 -1.2 0M255.70 394.27H257.67M255.70 392.77v3M257.67 392.77v3M256.09 394.27a0.6 0.6 0 1 0 1.2 0a0.6 0.6 0 1 0 -1.2 0M249.39 400.85H250.58M249.39 399.35v3M250.58 399.35v3M249.39 400.85a0.6 0.6 0 1 0 1.2 0a0.6 0.6 0 1 0 -1.2 0M231.46 407.42H233.43M231.46 405.92v3M233.43 405.92v3M231.85 407.42a0.6 0.6 0 1 0 1.2 0a0.6 0.6 0 1 0 -1.2 0M248.80 414.00H249.99M248.80 412.50v3M249.99 412.50v3M248.79 414.00a0.6 0.6 0 1 0 1.2 0a0.6 0.6 0 1 0 -1.2 0M248.80 420.57H249.99M248.80 419.07v3M249.99 419.07v3M248.79 420.57a0.6 0.6 0 1 0 1.2 0a0.6 0.6 0 1 0 -1.2 0M249.79 427.15H251.37M249.79 425.65v3M251.37 425.65v3M249.98 427.15a0.6 0.6 0 1 0 1.2 0a0.6 0.6 0 1 0 -1.2 0M259.84 433.72H262.99M259.84 432.22v3M262.99 432.22v3M260.82 433.72a0.6 0.6 0 1 0 1.2 0a0.6 0.6 0 1 0 -1.2 0M228.70 440.30H230.67M228.70 438.80v3M230.67 438.80v3M229.09 440.30a0.6 0.6 0 1 0 1.2 0a0.6 0.6 0 1 0 -1.2 0M253.14 446.88H254.72M253.14 445.38v3M254.72 445.38v3M253.33 446.88a0.6 0.6 0 1 0 1.2 0a0.6 0.6 0 1 0 -1.2 0M234.81 453.45H239.54M234.81 451.95v3M239.54 451.95v3M236.58 453.45a0.6 0.6 0 1 0 1.2 0a0.6 0.6 0 1 0 -1.2 0M256.49 460.02H258.07M256.49 458.52v3M258.07 458.52v3M256.68 460.02a0.6 0.6 0 1 0 1.2 0a0.6 0.6 0 1 0 -1.2 0" stroke="#f4955d" stroke-width="0.7" fill="#f4955d"/>
<rect x="16.0" y="463.31" width="180.3" height="52.60" fill="#deb67a" stroke="#3a3a3a" stroke-width="0.55"/>
<g font-size="6.12" font-weight="bold" text-anchor="end" fill="#54524f" stroke="#54524f" stroke-width="0.12"><text transform="matrix(1 .0006 0 1 193.0 468.55)">Natural environment percentage, buffer 300m</text><text transform="matrix(1 .0006 0 1 193.0 475.12)">Greenspace percentage, buffer 300m</text><text transform="matrix(1 .0006 0 1 193.0 481.70)">Greenspace percentage, buffer 1000m</text><text transform="matrix(1 .0006 0 1 193.0 488.27)">Natural environment percentage, buffer 1000m</text><text transform="matrix(1 .0006 0 1 193.0 494.85)">Nitrogen oxides air pollution; 2010</text><text transform="matrix(1 .0006 0 1 193.0 501.43)">Particulate matter air pollution (pm10)</text><text transform="matrix(1 .0006 0 1 193.0 508.00)">Particulate matter air pollution (pm2.5)</text><text transform="matrix(1 .0006 0 1 193.0 514.58)">Mg concentration</text></g>
<path d="M194.4 466.60h1.9M194.4 473.17h1.9M194.4 479.75h1.9M194.4 486.32h1.9M194.4 492.90h1.9M194.4 499.48h1.9M194.4 506.05h1.9M194.4 512.62h1.9" stroke="#222" stroke-width="0.75"/>
<path d="M240.53 466.60H242.89M240.53 465.10v3M242.89 465.10v3M241.11 466.60a0.6 0.6 0 1 0 1.2 0a0.6 0.6 0 1 0 -1.2 0M241.51 473.17H243.48M241.51 471.67v3M243.48 471.67v3M241.90 473.17a0.6 0.6 0 1 0 1.2 0a0.6 0.6 0 1 0 -1.2 0M240.33 479.75H242.69M240.33 478.25v3M242.69 478.25v3M240.91 479.75a0.6 0.6 0 1 0 1.2 0a0.6 0.6 0 1 0 -1.2 0M238.95 486.32H241.71M238.95 484.82v3M241.71 484.82v3M239.73 486.32a0.6 0.6 0 1 0 1.2 0a0.6 0.6 0 1 0 -1.2 0M250.38 492.90H252.75M250.38 491.40v3M252.75 491.40v3M250.96 492.90a0.6 0.6 0 1 0 1.2 0a0.6 0.6 0 1 0 -1.2 0M250.38 499.48H252.75M250.38 497.98v3M252.75 497.98v3M250.96 499.48a0.6 0.6 0 1 0 1.2 0a0.6 0.6 0 1 0 -1.2 0M251.56 506.05H253.93M251.56 504.55v3M253.93 504.55v3M252.15 506.05a0.6 0.6 0 1 0 1.2 0a0.6 0.6 0 1 0 -1.2 0M243.68 512.62H245.65M243.68 511.12v3M245.65 511.12v3M244.06 512.62a0.6 0.6 0 1 0 1.2 0a0.6 0.6 0 1 0 -1.2 0" stroke="#deb67a" stroke-width="0.7" fill="#deb67a"/>
<rect x="16.0" y="515.91" width="180.3" height="46.02" fill="#b9c791" stroke="#3a3a3a" stroke-width="0.55"/>
<g font-size="6.12" font-weight="bold" text-anchor="end" fill="#525350" stroke="#525350" stroke-width="0.12"><text transform="matrix(1 .0006 0 1 193.0 521.15)">No (Leisure/social activities)</text><text transform="matrix(1 .0006 0 1 193.0 527.73)">Yes (Other group activity)</text><text transform="matrix(1 .0006 0 1 193.0 534.30)">No (Risk taking)</text><text transform="matrix(1 .0006 0 1 193.0 540.88)">Yes (Sports club or gym)</text><text transform="matrix(1 .0006 0 1 193.0 547.45)">Never or almost never (Able to confide)</text><text transform="matrix(1 .0006 0 1 193.0 554.03)">Neuroticism score</text><text transform="matrix(1 .0006 0 1 193.0 560.60)">Depression symptom</text></g>
<path d="M194.4 519.20h1.9M194.4 525.77h1.9M194.4 532.35h1.9M194.4 538.92h1.9M194.4 545.50h1.9M194.4 552.08h1.9M194.4 558.65h1.9" stroke="#222" stroke-width="0.75"/>
<path d="M252.75 519.20H256.69M252.75 517.70v3M256.69 517.70v3M254.12 519.20a0.6 0.6 0 1 0 1.2 0a0.6 0.6 0 1 0 -1.2 0M241.12 525.77H244.66M241.12 524.27v3M244.66 524.27v3M242.29 525.77a0.6 0.6 0 1 0 1.2 0a0.6 0.6 0 1 0 -1.2 0M239.93 532.35H243.48M239.93 530.85v3M243.48 530.85v3M241.11 532.35a0.6 0.6 0 1 0 1.2 0a0.6 0.6 0 1 0 -1.2 0M235.40 538.92H238.56M235.40 537.42v3M238.56 537.42v3M236.38 538.92a0.6 0.6 0 1 0 1.2 0a0.6 0.6 0 1 0 -1.2 0M252.55 545.50H257.28M252.55 544.00v3M257.28 544.00v3M254.31 545.50a0.6 0.6 0 1 0 1.2 0a0.6 0.6 0 1 0 -1.2 0M257.48 552.08H260.63M257.48 550.58v3M260.63 550.58v3M258.45 552.08a0.6 0.6 0 1 0 1.2 0a0.6 0.6 0 1 0 -1.2 0M271.27 558.65H276.40M271.27 557.15v3M276.40 557.15v3M273.23 558.65a0.6 0.6 0 1 0 1.2 0a0.6 0.6 0 1 0 -1.2 0" stroke="#b9c791" stroke-width="0.7" fill="#b9c791"/>
<rect x="16.0" y="561.94" width="180.3" height="19.73" fill="#8fc8a7" stroke="#3a3a3a" stroke-width="0.55"/>
<g font-size="6.12" font-weight="bold" text-anchor="end" fill="#505351" stroke="#505351" stroke-width="0.12"><text transform="matrix(1 .0006 0 1 193.0 567.18)">Yes (Part of a multiple birth)</text><text transform="matrix(1 .0006 0 1 193.0 573.75)">Plumper (Comparative body size at age 10)</text><text transform="matrix(1 .0006 0 1 193.0 580.33)">Thinner (Comparative body size at age 10)</text></g>
<path d="M194.4 565.23h1.9M194.4 571.80h1.9M194.4 578.38h1.9" stroke="#222" stroke-width="0.75"/>
<path d="M253.34 565.23H257.67M253.34 563.73v3M257.67 563.73v3M254.90 565.23a0.6 0.6 0 1 0 1.2 0a0.6 0.6 0 1 0 -1.2 0M252.35 571.80H257.48M252.35 570.30v3M257.48 570.30v3M254.31 571.80a0.6 0.6 0 1 0 1.2 0a0.6 0.6 0 1 0 -1.2 0M248.21 578.38H251.76M248.21 576.88v3M251.76 576.88v3M249.39 578.38a0.6 0.6 0 1 0 1.2 0a0.6 0.6 0 1 0 -1.2 0" stroke="#8fc8a7" stroke-width="0.7" fill="#8fc8a7"/>
<rect x="16.0" y="581.66" width="180.3" height="263.00" fill="#5aa5b3" stroke="#3a3a3a" stroke-width="0.55"/>
<g font-size="6.12" font-weight="bold" text-anchor="end" fill="#4d5152" stroke="#4d5152" stroke-width="0.12"><text transform="matrix(1 .0006 0 1 193.0 586.90)">Yes (Multivitamins +/− minerals)</text><text transform="matrix(1 .0006 0 1 193.0 593.48)">Yes (Fish oil)</text><text transform="matrix(1 .0006 0 1 193.0 600.05)">Yes (Mineral and other dietary supplements)</text><text transform="matrix(1 .0006 0 1 193.0 606.62)">Yes (Plays computer games)</text><text transform="matrix(1 .0006 0 1 193.0 613.20)">Average daily intake of alcoholic drinks</text><text transform="matrix(1 .0006 0 1 193.0 619.78)">Yes (Glucosamine)</text><text transform="matrix(1 .0006 0 1 193.0 626.35)">Over 1 hours (Weekly usage of mobile phone in last 3 months)</text><text transform="matrix(1 .0006 0 1 193.0 632.92)">Yes (Snoring)</text><text transform="matrix(1 .0006 0 1 193.0 639.50)">Yes (Major dietary changes in the last 5 years)</text><text transform="matrix(1 .0006 0 1 193.0 646.08)">Yes (Folic acid or Folate (Vit B9))</text><text transform="matrix(1 .0006 0 1 193.0 652.65)">Hot (Hot drink temperature)</text><text transform="matrix(1 .0006 0 1 193.0 659.23)">Improper sleep duration (Moderate sleep)</text><text transform="matrix(1 .0006 0 1 193.0 665.80)">Often (Variation in diet)</text><text transform="matrix(1 .0006 0 1 193.0 672.38)">Sometimes (Variation in diet)</text><text transform="matrix(1 .0006 0 1 193.0 678.95)">Yes (Ever smoked)</text><text transform="matrix(1 .0006 0 1 193.0 685.53)">Usually (Sleeplessness / insomnia)</text><text transform="matrix(1 .0006 0 1 193.0 692.10)">Sometimes (Sleeplessness / insomnia)</text><text transform="matrix(1 .0006 0 1 193.0 698.67)">More a 'morning' than 'evening' person (Morning/evening person)</text><text transform="matrix(1 .0006 0 1 193.0 705.25)">Definitely an 'evening' person (Morning/evening person)</text><text transform="matrix(1 .0006 0 1 193.0 711.83)">Not at all easy (Getting up in morning)</text><text transform="matrix(1 .0006 0 1 193.0 718.40)">Not very easy (Getting up in morning)</text><text transform="matrix(1 .0006 0 1 193.0 724.98)">Always or almost always (HFD/SP (Last 3 Mo))</text><text transform="matrix(1 .0006 0 1 193.0 731.55)">Always (Salt added to food)</text><text transform="matrix(1 .0006 0 1 193.0 738.12)">Usually (Salt added to food)</text><text transform="matrix(1 .0006 0 1 193.0 744.70)">Sometimes (Salt added to food)</text><text transform="matrix(1 .0006 0 1 193.0 751.28)">MET minutes per week for vigorous activity</text><text transform="matrix(1 .0006 0 1 193.0 757.85)">Yes (Exposure to secondhand smoke)</text><text transform="matrix(1 .0006 0 1 193.0 764.42)">Healthy diet level</text><text transform="matrix(1 .0006 0 1 193.0 771.00)">Lifetime number of sexual partners</text><text transform="matrix(1 .0006 0 1 193.0 777.58)">Often (Daytime dozing / sleeping)</text><text transform="matrix(1 .0006 0 1 193.0 784.15)">Sometimes (Daytime dozing / sleeping)</text><text transform="matrix(1 .0006 0 1 193.0 790.73)">Water intake</text><text transform="matrix(1 .0006 0 1 193.0 797.30)">Usually (Nap during day)</text><text transform="matrix(1 .0006 0 1 193.0 803.88)">Sometimes (Nap during day)</text><text transform="matrix(1 .0006 0 1 193.0 810.45)">Age first had sexual intercourse</text><text transform="matrix(1 .0006 0 1 193.0 817.03)">Tea intake</text><text transform="matrix(1 .0006 0 1 193.0 823.60)">Time spend outdoors in summer</text><text transform="matrix(1 .0006 0 1 193.0 830.17)">Coffee intake</text><text transform="matrix(1 .0006 0 1 193.0 836.75)">Time spent outdoors in winter</text><text transform="matrix(1 .0006 0 1 193.0 843.33)">Time spent watching television (TV)</text></g>
<path d="M194.4 584.95h1.9M194.4 591.52h1.9M194.4 598.10h1.9M194.4 604.67h1.9M194.4 611.25h1.9M194.4 617.83h1.9M194.4 624.40h1.9M194.4 630.97h1.9M194.4 637.55h1.9M194.4 644.12h1.9M194.4 650.70h1.9M194.4 657.27h1.9M194.4 663.85h1.9M194.4 670.42h1.9M194.4 677.00h1.9M194.4 683.58h1.9M194.4 690.15h1.9M194.4 696.72h1.9M194.4 703.30h1.9M194.4 709.88h1.9M194.4 716.45h1.9M194.4 723.02h1.9M194.4 729.60h1.9M194.4 736.17h1.9M194.4 742.75h1.9M194.4 749.33h1.9M194.4 755.90h1.9M194.4 762.47h1.9M194.4 769.05h1.9M194.4 775.62h1.9M194.4 782.20h1.9M194.4 788.77h1.9M194.4 795.35h1.9M194.4 801.92h1.9M194.4 808.50h1.9M194.4 815.08h1.9M194.4 821.65h1.9M194.4 828.22h1.9M194.4 834.80h1.9M194.4 841.38h1.9" stroke="#222" stroke-width="0.75"/>
<path d="M240.53 584.95H244.07M240.53 583.45v3M244.07 583.45v3M241.70 584.95a0.6 0.6 0 1 0 1.2 0a0.6 0.6 0 1 0 -1.2 0M238.56 591.52H241.71M238.56 590.02v3M241.71 590.02v3M239.53 591.52a0.6 0.6 0 1 0 1.2 0a0.6 0.6 0 1 0 -1.2 0M238.56 598.10H241.71M238.56 596.60v3M241.71 596.60v3M239.53 598.10a0.6 0.6 0 1 0 1.2 0a0.6 0.6 0 1 0 -1.2 0M251.17 604.67H255.50M251.17 603.17v3M255.50 603.17v3M252.74 604.67a0.6 0.6 0 1 0 1.2 0a0.6 0.6 0 1 0 -1.2 0M253.53 611.25H257.48M253.53 609.75v3M257.48 609.75v3M254.90 611.25a0.6 0.6 0 1 0 1.2 0a0.6 0.6 0 1 0 -1.2 0M237.37 617.83H240.53M237.37 616.33v3M240.53 616.33v3M238.35 617.83a0.6 0.6 0 1 0 1.2 0a0.6 0.6 0 1 0 -1.2 0M255.31 624.40H259.64M255.31 622.90v3M259.64 622.90v3M256.88 624.40a0.6 0.6 0 1 0 1.2 0a0.6 0.6 0 1 0 -1.2 0M251.56 630.97H255.50M251.56 629.47v3M255.50 629.47v3M252.93 630.97a0.6 0.6 0 1 0 1.2 0a0.6 0.6 0 1 0 -1.2 0M262.21 637.55H266.54M262.21 636.05v3M266.54 636.05v3M263.77 637.55a0.6 0.6 0 1 0 1.2 0a0.6 0.6 0 1 0 -1.2 0M259.25 644.12H271.47M259.25 642.62v3M271.47 642.62v3M264.76 644.12a0.6 0.6 0 1 0 1.2 0a0.6 0.6 0 1 0 -1.2 0M238.95 650.70H242.50M238.95 649.20v3M242.50 649.20v3M240.12 650.70a0.6 0.6 0 1 0 1.2 0a0.6 0.6 0 1 0 -1.2 0M258.66 657.27H263.39M258.66 655.77v3M263.39 655.77v3M260.42 657.27a0.6 0.6 0 1 0 1.2 0a0.6 0.6 0 1 0 -1.2 0M258.66 663.85H266.15M258.66 662.35v3M266.15 662.35v3M261.80 663.85a0.6 0.6 0 1 0 1.2 0a0.6 0.6 0 1 0 -1.2 0M251.37 670.42H254.91M251.37 668.92v3M254.91 668.92v3M252.54 670.42a0.6 0.6 0 1 0 1.2 0a0.6 0.6 0 1 0 -1.2 0M257.28 677.00H261.22M257.28 675.50v3M261.22 675.50v3M258.65 677.00a0.6 0.6 0 1 0 1.2 0a0.6 0.6 0 1 0 -1.2 0M266.15 683.58H271.67M266.15 682.08v3M271.67 682.08v3M268.31 683.58a0.6 0.6 0 1 0 1.2 0a0.6 0.6 0 1 0 -1.2 0M252.35 690.15H256.69M252.35 688.65v3M256.69 688.65v3M253.92 690.15a0.6 0.6 0 1 0 1.2 0a0.6 0.6 0 1 0 -1.2 0M239.74 696.72H243.29M239.74 695.22v3M243.29 695.22v3M240.91 696.72a0.6 0.6 0 1 0 1.2 0a0.6 0.6 0 1 0 -1.2 0M251.37 703.30H257.67M251.37 701.80v3M257.67 701.80v3M253.92 703.30a0.6 0.6 0 1 0 1.2 0a0.6 0.6 0 1 0 -1.2 0M276.59 709.88H289.21M276.59 708.38v3M289.21 708.38v3M282.30 709.88a0.6 0.6 0 1 0 1.2 0a0.6 0.6 0 1 0 -1.2 0M255.90 716.45H261.81M255.90 714.95v3M261.81 714.95v3M258.25 716.45a0.6 0.6 0 1 0 1.2 0a0.6 0.6 0 1 0 -1.2 0M251.56 723.02H262.60M251.56 721.52v3M262.60 721.52v3M256.48 723.02a0.6 0.6 0 1 0 1.2 0a0.6 0.6 0 1 0 -1.2 0M270.29 729.60H279.75M270.29 728.10v3M279.75 728.10v3M274.42 729.60a0.6 0.6 0 1 0 1.2 0a0.6 0.6 0 1 0 -1.2 0M253.14 736.17H258.66M253.14 734.67v3M258.66 734.67v3M255.30 736.17a0.6 0.6 0 1 0 1.2 0a0.6 0.6 0 1 0 -1.2 0M250.18 742.75H254.52M250.18 741.25v3M254.52 741.25v3M251.75 742.75a0.6 0.6 0 1 0 1.2 0a0.6 0.6 0 1 0 -1.2 0M244.27 749.33H245.85M244.27 747.83v3M245.85 747.83v3M244.46 749.33a0.6 0.6 0 1 0 1.2 0a0.6 0.6 0 1 0 -1.2 0M265.95 755.90H270.29M265.95 754.40v3M270.29 754.40v3M267.52 755.90a0.6 0.6 0 1 0 1.2 0a0.6 0.6 0 1 0 -1.2 0M236.58 762.47H239.34M236.58 760.97v3M239.34 760.97v3M237.36 762.47a0.6 0.6 0 1 0 1.2 0a0.6 0.6 0 1 0 -1.2 0M246.24 769.05H247.03M246.24 767.55v3M247.03 767.55v3M246.04 769.05a0.6 0.6 0 1 0 1.2 0a0.6 0.6 0 1 0 -1.2 0M276.20 775.62H288.42M276.20 774.12v3M288.42 774.12v3M281.71 775.62a0.6 0.6 0 1 0 1.2 0a0.6 0.6 0 1 0 -1.2 0M254.32 782.20H258.66M254.32 780.70v3M258.66 780.70v3M255.89 782.20a0.6 0.6 0 1 0 1.2 0a0.6 0.6 0 1 0 -1.2 0M249.20 788.77H251.56M249.20 787.27v3M251.56 787.27v3M249.78 788.77a0.6 0.6 0 1 0 1.2 0a0.6 0.6 0 1 0 -1.2 0M263.39 795.35H271.27M263.39 793.85v3M271.27 793.85v3M266.73 795.35a0.6 0.6 0 1 0 1.2 0a0.6 0.6 0 1 0 -1.2 0M257.28 801.92H261.61M257.28 800.42v3M261.61 800.42v3M258.85 801.92a0.6 0.6 0 1 0 1.2 0a0.6 0.6 0 1 0 -1.2 0M238.56 808.50H240.53M238.56 807.00v3M240.53 807.00v3M238.94 808.50a0.6 0.6 0 1 0 1.2 0a0.6 0.6 0 1 0 -1.2 0M248.21 815.08H250.58M248.21 813.58v3M250.58 813.58v3M248.79 815.08a0.6 0.6 0 1 0 1.2 0a0.6 0.6 0 1 0 -1.2 0M249.20 821.65H251.56M249.20 820.15v3M251.56 820.15v3M249.78 821.65a0.6 0.6 0 1 0 1.2 0a0.6 0.6 0 1 0 -1.2 0M248.02 828.22H250.38M248.02 826.72v3M250.38 826.72v3M248.60 828.22a0.6 0.6 0 1 0 1.2 0a0.6 0.6 0 1 0 -1.2 0M247.62 834.80H249.20M247.62 833.30v3M249.20 833.30v3M247.81 834.80a0.6 0.6 0 1 0 1.2 0a0.6 0.6 0 1 0 -1.2 0M256.29 841.38H258.66M256.29 839.88v3M258.66 839.88v3M256.88 841.38a0.6 0.6 0 1 0 1.2 0a0.6 0.6 0 1 0 -1.2 0" stroke="#5aa5b3" stroke-width="0.7" fill="#5aa5b3"/>
<rect x="16.0" y="844.66" width="180.3" height="66.24" fill="#2b82be" stroke="#3a3a3a" stroke-width="0.55"/>
<g font-size="6.12" font-weight="bold" text-anchor="end" fill="#4b4f52" stroke="#4b4f52" stroke-width="0.12"><text transform="matrix(1 .0006 0 1 193.0 849.90)">Lower education (Qualifications)</text><text transform="matrix(1 .0006 0 1 193.0 856.48)">Open solid fuel (Gas or solid−fuel cooking/heating)</text><text transform="matrix(1 .0006 0 1 193.0 863.05)">Other (Type of accommodation lived in)</text><text transform="matrix(1 .0006 0 1 193.0 869.62)">Townsend deprivation index at recruitment</text><text transform="matrix(1 .0006 0 1 193.0 876.20)">Unemployed (Current employment status)</text><text transform="matrix(1 .0006 0 1 193.0 882.78)">Greater than 100,000 (ATHI before tax)</text><text transform="matrix(1 .0006 0 1 193.0 889.35)">52,000 to 100,000 (ATHI before tax)</text><text transform="matrix(1 .0006 0 1 193.0 895.93)">31,000 to 51,999 (ATHI before tax)</text><text transform="matrix(1 .0006 0 1 193.0 902.50)">18,000 to 30,999 (ATHI before tax)</text><text transform="matrix(1 .0006 0 1 193.0 909.08)">Disability (Attendance/disability/mobility allowance)</text></g>
<path d="M194.4 847.95h1.9M194.4 854.52h1.9M194.4 861.10h1.9M194.4 867.67h1.9M194.4 874.25h1.9M194.4 880.83h1.9M194.4 887.40h1.9M194.4 893.98h1.9M194.4 900.55h1.9M194.4 907.12h1.9" stroke="#222" stroke-width="0.75"/>
<path d="M258.26 847.95H262.21M258.26 846.45v3M262.21 846.45v3M259.63 847.95a0.6 0.6 0 1 0 1.2 0a0.6 0.6 0 1 0 -1.2 0M232.64 854.52H238.16M232.64 853.02v3M238.16 853.02v3M234.80 854.52a0.6 0.6 0 1 0 1.2 0a0.6 0.6 0 1 0 -1.2 0M268.12 861.10H290.59M268.12 859.60v3M290.59 859.60v3M278.75 861.10a0.6 0.6 0 1 0 1.2 0a0.6 0.6 0 1 0 -1.2 0M259.84 867.67H262.60M259.84 866.17v3M262.60 866.17v3M260.62 867.67a0.6 0.6 0 1 0 1.2 0a0.6 0.6 0 1 0 -1.2 0M301.03 874.25H312.46M301.03 872.75v3M312.46 872.75v3M306.15 874.25a0.6 0.6 0 1 0 1.2 0a0.6 0.6 0 1 0 -1.2 0M218.65 880.83H223.77M218.65 879.33v3M223.77 879.33v3M220.61 880.83a0.6 0.6 0 1 0 1.2 0a0.6 0.6 0 1 0 -1.2 0M220.62 887.40H223.77M220.62 885.90v3M223.77 885.90v3M221.60 887.40a0.6 0.6 0 1 0 1.2 0a0.6 0.6 0 1 0 -1.2 0M226.34 893.98H229.88M226.34 892.48v3M229.88 892.48v3M227.51 893.98a0.6 0.6 0 1 0 1.2 0a0.6 0.6 0 1 0 -1.2 0M231.26 900.55H234.81M231.26 899.05v3M234.81 899.05v3M232.44 900.55a0.6 0.6 0 1 0 1.2 0a0.6 0.6 0 1 0 -1.2 0M308.13 907.12H318.77M308.13 905.62v3M318.77 905.62v3M312.85 907.12a0.6 0.6 0 1 0 1.2 0a0.6 0.6 0 1 0 -1.2 0" stroke="#2b82be" stroke-width="0.7" fill="#2b82be"/>
<g fill="#fff" stroke="#6c6c6c" stroke-width="0.5"><rect x="197.6" y="358.36" width="13.300000000000011" height="6.08"/><rect x="197.6" y="364.94" width="13.300000000000011" height="6.08"/><rect x="197.6" y="371.51" width="13.300000000000011" height="6.08"/><rect x="197.6" y="378.09" width="13.300000000000011" height="6.08"/><rect x="197.6" y="384.66" width="13.300000000000011" height="6.08"/><rect x="197.6" y="391.24" width="13.300000000000011" height="6.08"/><rect x="197.6" y="397.81" width="13.300000000000011" height="6.08"/><rect x="197.6" y="404.39" width="13.300000000000011" height="6.08"/><rect x="197.6" y="410.96" width="13.300000000000011" height="6.08"/><rect x="197.6" y="417.54" width="13.300000000000011" height="6.08"/><rect x="197.6" y="424.11" width="13.300000000000011" height="6.08"/><rect x="197.6" y="430.69" width="13.300000000000011" height="6.08"/><rect x="197.6" y="437.26" width="13.300000000000011" height="6.08"/><rect x="197.6" y="443.84" width="13.300000000000011" height="6.08"/><rect x="197.6" y="450.41" width="13.300000000000011" height="6.08"/><rect x="197.6" y="456.99" width="13.300000000000011" height="6.08"/><rect x="197.6" y="463.56" width="13.300000000000011" height="6.08"/><rect x="197.6" y="470.14" width="13.300000000000011" height="6.08"/><rect x="197.6" y="476.71" width="13.300000000000011" height="6.08"/><rect x="197.6" y="483.29" width="13.300000000000011" height="6.08"/><rect x="197.6" y="489.86" width="13.300000000000011" height="6.08"/><rect x="197.6" y="496.44" width="13.300000000000011" height="6.08"/><rect x="197.6" y="503.01" width="13.300000000000011" height="6.08"/><rect x="197.6" y="509.59" width="13.300000000000011" height="6.08"/><rect x="197.6" y="516.16" width="13.300000000000011" height="6.08"/><rect x="197.6" y="522.74" width="13.300000000000011" height="6.08"/><rect x="197.6" y="529.31" width="13.300000000000011" height="6.08"/><rect x="197.6" y="535.89" width="13.300000000000011" height="6.08"/><rect x="197.6" y="542.46" width="13.300000000000011" height="6.08"/><rect x="197.6" y="549.04" width="13.300000000000011" height="6.08"/><rect x="197.6" y="555.61" width="13.300000000000011" height="6.08"/><rect x="197.6" y="562.19" width="13.300000000000011" height="6.08"/><rect x="197.6" y="568.76" width="13.300000000000011" height="6.08"/><rect x="197.6" y="575.34" width="13.300000000000011" height="6.08"/><rect x="197.6" y="581.91" width="13.300000000000011" height="6.08"/><rect x="197.6" y="588.49" width="13.300000000000011" height="6.08"/><rect x="197.6" y="595.06" width="13.300000000000011" height="6.08"/><rect x="197.6" y="601.64" width="13.300000000000011" height="6.08"/><rect x="197.6" y="608.21" width="13.300000000000011" height="6.08"/><rect x="197.6" y="614.79" width="13.300000000000011" height="6.08"/><rect x="197.6" y="621.36" width="13.300000000000011" height="6.08"/><rect x="197.6" y="627.94" width="13.300000000000011" height="6.08"/><rect x="197.6" y="634.51" width="13.300000000000011" height="6.08"/><rect x="197.6" y="641.09" width="13.300000000000011" height="6.08"/><rect x="197.6" y="647.66" width="13.300000000000011" height="6.08"/><rect x="197.6" y="654.24" width="13.300000000000011" height="6.08"/><rect x="197.6" y="660.81" width="13.300000000000011" height="6.08"/><rect x="197.6" y="667.39" width="13.300000000000011" height="6.08"/><rect x="197.6" y="673.96" width="13.300000000000011" height="6.08"/><rect x="197.6" y="680.54" width="13.300000000000011" height="6.08"/><rect x="197.6" y="687.11" width="13.300000000000011" height="6.08"/><rect x="197.6" y="693.69" width="13.300000000000011" height="6.08"/><rect x="197.6" y="700.26" width="13.300000000000011" height="6.08"/><rect x="197.6" y="706.84" width="13.300000000000011" height="6.08"/><rect x="197.6" y="713.41" width="13.300000000000011" height="6.08"/><rect x="197.6" y="719.99" width="13.300000000000011" height="6.08"/><rect x="197.6" y="726.56" width="13.300000000000011" height="6.08"/><rect x="197.6" y="733.14" width="13.300000000000011" height="6.08"/><rect x="197.6" y="739.71" width="13.300000000000011" height="6.08"/><rect x="197.6" y="746.29" width="13.300000000000011" height="6.08"/><rect x="197.6" y="752.86" width="13.300000000000011" height="6.08"/><rect x="197.6" y="759.44" width="13.300000000000011" height="6.08"/><rect x="197.6" y="766.01" width="13.300000000000011" height="6.08"/><rect x="197.6" y="772.59" width="13.300000000000011" height="6.08"/><rect x="197.6" y="779.16" width="13.300000000000011" height="6.08"/><rect x="197.6" y="785.74" width="13.300000000000011" height="6.08"/><rect x="197.6" y="792.31" width="13.300000000000011" height="6.08"/><rect x="197.6" y="798.89" width="13.300000000000011" height="6.08"/><rect x="197.6" y="805.46" width="13.300000000000011" height="6.08"/><rect x="197.6" y="812.04" width="13.300000000000011" height="6.08"/><rect x="197.6" y="818.61" width="13.300000000000011" height="6.08"/><rect x="197.6" y="825.19" width="13.300000000000011" height="6.08"/><rect x="197.6" y="831.76" width="13.300000000000011" height="6.08"/><rect x="197.6" y="838.34" width="13.300000000000011" height="6.08"/><rect x="197.6" y="844.91" width="13.300000000000011" height="6.08"/><rect x="197.6" y="851.49" width="13.300000000000011" height="6.08"/><rect x="197.6" y="858.06" width="13.300000000000011" height="6.08"/><rect x="197.6" y="864.64" width="13.300000000000011" height="6.08"/><rect x="197.6" y="871.21" width="13.300000000000011" height="6.08"/><rect x="197.6" y="877.79" width="13.300000000000011" height="6.08"/><rect x="197.6" y="884.36" width="13.300000000000011" height="6.08"/><rect x="197.6" y="890.94" width="13.300000000000011" height="6.08"/><rect x="197.6" y="897.51" width="13.300000000000011" height="6.08"/><rect x="197.6" y="904.09" width="13.300000000000011" height="6.08"/></g>
<g font-size="6.35" text-anchor="middle" fill="#303030" stroke="#303030" stroke-width="0.05"><text transform="matrix(1 .0006 0 1 204.25 363.40)">31</text><text transform="matrix(1 .0006 0 1 204.25 369.97)">29</text><text transform="matrix(1 .0006 0 1 204.25 376.55)">27</text><text transform="matrix(1 .0006 0 1 204.25 383.12)">25</text><text transform="matrix(1 .0006 0 1 204.25 389.70)">24</text><text transform="matrix(1 .0006 0 1 204.25 396.27)">22</text><text transform="matrix(1 .0006 0 1 204.25 402.85)">20</text><text transform="matrix(1 .0006 0 1 204.25 409.42)">19</text><text transform="matrix(1 .0006 0 1 204.25 416.00)">16</text><text transform="matrix(1 .0006 0 1 204.25 422.57)">15</text><text transform="matrix(1 .0006 0 1 204.25 429.15)">13</text><text transform="matrix(1 .0006 0 1 204.25 435.72)">12</text><text transform="matrix(1 .0006 0 1 204.25 442.30)">10</text><text transform="matrix(1 .0006 0 1 204.25 448.88)">7</text><text transform="matrix(1 .0006 0 1 204.25 455.45)">6</text><text transform="matrix(1 .0006 0 1 204.25 462.02)">2</text><text transform="matrix(1 .0006 0 1 204.25 468.60)">93</text><text transform="matrix(1 .0006 0 1 204.25 475.17)">91</text><text transform="matrix(1 .0006 0 1 204.25 481.75)">90</text><text transform="matrix(1 .0006 0 1 204.25 488.32)">85</text><text transform="matrix(1 .0006 0 1 204.25 494.90)">81</text><text transform="matrix(1 .0006 0 1 204.25 501.48)">73</text><text transform="matrix(1 .0006 0 1 204.25 508.05)">71</text><text transform="matrix(1 .0006 0 1 204.25 514.62)">66</text><text transform="matrix(1 .0006 0 1 204.25 521.20)">173</text><text transform="matrix(1 .0006 0 1 204.25 527.77)">162</text><text transform="matrix(1 .0006 0 1 204.25 534.35)">149</text><text transform="matrix(1 .0006 0 1 204.25 540.92)">146</text><text transform="matrix(1 .0006 0 1 204.25 547.50)">84</text><text transform="matrix(1 .0006 0 1 204.25 554.08)">66</text><text transform="matrix(1 .0006 0 1 204.25 560.65)">34</text><text transform="matrix(1 .0006 0 1 204.25 567.23)">163</text><text transform="matrix(1 .0006 0 1 204.25 573.80)">118</text><text transform="matrix(1 .0006 0 1 204.25 580.38)">118</text><text transform="matrix(1 .0006 0 1 204.25 586.95)">175</text><text transform="matrix(1 .0006 0 1 204.25 593.52)">174</text><text transform="matrix(1 .0006 0 1 204.25 600.10)">174</text><text transform="matrix(1 .0006 0 1 204.25 606.67)">170</text><text transform="matrix(1 .0006 0 1 204.25 613.25)">168</text><text transform="matrix(1 .0006 0 1 204.25 619.83)">165</text><text transform="matrix(1 .0006 0 1 204.25 626.40)">147</text><text transform="matrix(1 .0006 0 1 204.25 632.97)">133</text><text transform="matrix(1 .0006 0 1 204.25 639.55)">128</text><text transform="matrix(1 .0006 0 1 204.25 646.12)">126</text><text transform="matrix(1 .0006 0 1 204.25 652.70)">113</text><text transform="matrix(1 .0006 0 1 204.25 659.27)">112</text><text transform="matrix(1 .0006 0 1 204.25 665.85)">108</text><text transform="matrix(1 .0006 0 1 204.25 672.42)">108</text><text transform="matrix(1 .0006 0 1 204.25 679.00)">101</text><text transform="matrix(1 .0006 0 1 204.25 685.58)">97</text><text transform="matrix(1 .0006 0 1 204.25 692.15)">97</text><text transform="matrix(1 .0006 0 1 204.25 698.72)">95</text><text transform="matrix(1 .0006 0 1 204.25 705.30)">95</text><text transform="matrix(1 .0006 0 1 204.25 711.88)">82</text><text transform="matrix(1 .0006 0 1 204.25 718.45)">82</text><text transform="matrix(1 .0006 0 1 204.25 725.02)">77</text><text transform="matrix(1 .0006 0 1 204.25 731.60)">68</text><text transform="matrix(1 .0006 0 1 204.25 738.17)">68</text><text transform="matrix(1 .0006 0 1 204.25 744.75)">68</text><text transform="matrix(1 .0006 0 1 204.25 751.33)">64</text><text transform="matrix(1 .0006 0 1 204.25 757.90)">60</text><text transform="matrix(1 .0006 0 1 204.25 764.47)">58</text><text transform="matrix(1 .0006 0 1 204.25 771.05)">57</text><text transform="matrix(1 .0006 0 1 204.25 777.62)">55</text><text transform="matrix(1 .0006 0 1 204.25 784.20)">55</text><text transform="matrix(1 .0006 0 1 204.25 790.77)">51</text><text transform="matrix(1 .0006 0 1 204.25 797.35)">49</text><text transform="matrix(1 .0006 0 1 204.25 803.92)">49</text><text transform="matrix(1 .0006 0 1 204.25 810.50)">46</text><text transform="matrix(1 .0006 0 1 204.25 817.08)">42</text><text transform="matrix(1 .0006 0 1 204.25 823.65)">40</text><text transform="matrix(1 .0006 0 1 204.25 830.22)">38</text><text transform="matrix(1 .0006 0 1 204.25 836.80)">35</text><text transform="matrix(1 .0006 0 1 204.25 843.38)">21</text><text transform="matrix(1 .0006 0 1 204.25 849.95)">148</text><text transform="matrix(1 .0006 0 1 204.25 856.52)">115</text><text transform="matrix(1 .0006 0 1 204.25 863.10)">105</text><text transform="matrix(1 .0006 0 1 204.25 869.67)">56</text><text transform="matrix(1 .0006 0 1 204.25 876.25)">53</text><text transform="matrix(1 .0006 0 1 204.25 882.83)">14</text><text transform="matrix(1 .0006 0 1 204.25 889.40)">14</text><text transform="matrix(1 .0006 0 1 204.25 895.98)">14</text><text transform="matrix(1 .0006 0 1 204.25 902.55)">14</text><text transform="matrix(1 .0006 0 1 204.25 909.12)">9</text></g>
<rect x="214.3" y="357.6" width="109.80000000000001" height="553.3" fill="none" stroke="#555" stroke-width="0.7"/>
<path d="M216.72 910.9v1.6M246.60 910.9v1.6M276.48 910.9v1.6M306.35 910.9v1.6M204.25 910.9v1.6" stroke="#333" stroke-width="0.5"/>
<text transform="matrix(1 .0006 0 1 216.72 919)" font-size="6.3" text-anchor="middle" fill="#222">0.5</text>
<text transform="matrix(1 .0006 0 1 246.60 919)" font-size="6.3" text-anchor="middle" fill="#222">1.0</text>
<text transform="matrix(1 .0006 0 1 276.48 919)" font-size="6.3" text-anchor="middle" fill="#222">1.5</text>
<text transform="matrix(1 .0006 0 1 306.35 919)" font-size="6.3" text-anchor="middle" fill="#222">2.0</text>
<text transform="matrix(1 .0006 0 1 204.2 919)" font-size="6.3" text-anchor="middle" fill="#111">Rank</text>
<text transform="matrix(1 .0006 0 1 211.0 927.3)" font-size="7.45" fill="#111">Hazard ratio (95% confidence interval)</text>
<rect x="555.4" y="357.6" width="109.60000000000002" height="553.3" fill="#fff"/>
<path d="M555.4 361.10H665.0M555.4 367.60H665.0M555.4 374.11H665.0M555.4 380.61H665.0M555.4 387.12H665.0M555.4 393.62H665.0M555.4 400.12H665.0M555.4 406.63H665.0M555.4 413.13H665.0M555.4 419.64H665.0M555.4 426.14H665.0M555.4 432.64H665.0M555.4 439.15H665.0M555.4 445.65H665.0M555.4 452.16H665.0M555.4 458.66H665.0M555.4 465.16H665.0M555.4 471.67H665.0M555.4 478.17H665.0M555.4 484.68H665.0M555.4 491.18H665.0M555.4 497.68H665.0M555.4 504.19H665.0M555.4 510.69H665.0M555.4 517.20H665.0M555.4 523.70H665.0M555.4 530.20H665.0M555.4 536.71H665.0M555.4 543.21H665.0M555.4 549.72H665.0M555.4 556.22H665.0M555.4 562.72H665.0M555.4 569.23H665.0M555.4 575.73H665.0M555.4 582.24H665.0M555.4 588.74H665.0M555.4 595.24H665.0M555.4 601.75H665.0M555.4 608.25H665.0M555.4 614.76H665.0M555.4 621.26H665.0M555.4 627.76H665.0M555.4 634.27H665.0M555.4 640.77H665.0M555.4 647.28H665.0M555.4 653.78H665.0M555.4 660.28H665.0M555.4 666.79H665.0M555.4 673.29H665.0M555.4 679.80H665.0M555.4 686.30H665.0M555.4 692.80H665.0M555.4 699.31H665.0M555.4 705.81H665.0M555.4 712.32H665.0M555.4 718.82H665.0M555.4 725.32H665.0M555.4 731.83H665.0M555.4 738.33H665.0M555.4 744.84H665.0M555.4 751.34H665.0M555.4 757.84H665.0M555.4 764.35H665.0M555.4 770.85H665.0M555.4 777.36H665.0M555.4 783.86H665.0M555.4 790.36H665.0M555.4 796.87H665.0M555.4 803.37H665.0M555.4 809.88H665.0M555.4 816.38H665.0M555.4 822.88H665.0M555.4 829.39H665.0M555.4 835.89H665.0M555.4 842.40H665.0M555.4 848.90H665.0M555.4 855.40H665.0M555.4 861.91H665.0M555.4 868.41H665.0M555.4 874.92H665.0M555.4 881.42H665.0M555.4 887.92H665.0M555.4 894.43H665.0M555.4 900.93H665.0M555.4 907.44H665.0" stroke="#e4e4e4" stroke-width="0.55" fill="none"/>
<path d="M555.52 357.6V910.9M583.48 357.6V910.9M611.42 357.6V910.9M639.38 357.6V910.9" stroke="#ececec" stroke-width="0.4" fill="none"/>
<path d="M569.50 357.6V910.9M597.45 357.6V910.9M625.40 357.6V910.9M653.35 357.6V910.9" stroke="#e2e2e2" stroke-width="0.6" fill="none"/>
<path d="M569.5 357.6V910.9" stroke="#000" stroke-width="1.1" stroke-dasharray="3 2.8" fill="none"/>
<rect x="353.5" y="357.60" width="184.70000000000005" height="351.46" fill="#dc2530" stroke="#3a3a3a" stroke-width="0.55"/>
<g font-size="6.12" font-weight="bold" text-anchor="end" fill="#544b4b" stroke="#544b4b" stroke-width="0.12"><text transform="matrix(1 .0006 0 1 534.9000000000001 363.05)">Viral infections characterized by skin and mucous membrane lesions</text><text transform="matrix(1 .0006 0 1 534.9000000000001 369.55)">Other viral diseases</text><text transform="matrix(1 .0006 0 1 534.9000000000001 376.06)">Mycoses</text><text transform="matrix(1 .0006 0 1 534.9000000000001 382.56)">Other soft tissue disorders</text><text transform="matrix(1 .0006 0 1 534.9000000000001 389.07)">Other joint disorders</text><text transform="matrix(1 .0006 0 1 534.9000000000001 395.57)">Yes (Weight change compared with 1 year ago)</text><text transform="matrix(1 .0006 0 1 534.9000000000001 402.07)">Diseases of external ear</text><text transform="matrix(1 .0006 0 1 534.9000000000001 408.58)">Other dorsopathies</text><text transform="matrix(1 .0006 0 1 534.9000000000001 415.08)">Influenza and pneumonia</text><text transform="matrix(1 .0006 0 1 534.9000000000001 421.59)">Papulosquamous disorders</text><text transform="matrix(1 .0006 0 1 534.9000000000001 428.09)">Diseases of middle ear and mastoid</text><text transform="matrix(1 .0006 0 1 534.9000000000001 434.59)">Nutritional anaemias</text><text transform="matrix(1 .0006 0 1 534.9000000000001 441.10)">Neurotic, stress−related and somatoform disorders</text><text transform="matrix(1 .0006 0 1 534.9000000000001 447.60)">Disorders of synovium and tendon</text><text transform="matrix(1 .0006 0 1 534.9000000000001 454.11)">Diseases of inner ear</text><text transform="matrix(1 .0006 0 1 534.9000000000001 460.61)">Diseases of oral cavity, salivary glands and jaws</text><text transform="matrix(1 .0006 0 1 534.9000000000001 467.11)">Mood disorders</text><text transform="matrix(1 .0006 0 1 534.9000000000001 473.62)">Disorders of eyelid, lacrimal system and orbit</text><text transform="matrix(1 .0006 0 1 534.9000000000001 480.12)">Other acute lower respiratory infections</text><text transform="matrix(1 .0006 0 1 534.9000000000001 486.63)">Disorders of bone density and structure</text><text transform="matrix(1 .0006 0 1 534.9000000000001 493.13)">Yes (Falls in the last year)</text><text transform="matrix(1 .0006 0 1 534.9000000000001 499.63)">Episodic and paroxysmal disorders</text><text transform="matrix(1 .0006 0 1 534.9000000000001 506.14)">Infections of the skin and subcutaneous tissue</text><text transform="matrix(1 .0006 0 1 534.9000000000001 512.64)">Intestinal infectious diseases</text><text transform="matrix(1 .0006 0 1 534.9000000000001 519.15)">Urolithiasis</text><text transform="matrix(1 .0006 0 1 534.9000000000001 525.65)">Disorders of gallbladder, biliary tract and pancreas</text><text transform="matrix(1 .0006 0 1 534.9000000000001 532.15)">Disorders of thyroid gland</text><text transform="matrix(1 .0006 0 1 534.9000000000001 538.66)">Visual disturbances and blindness</text><text transform="matrix(1 .0006 0 1 534.9000000000001 545.16)">Aplastic and other anaemias</text><text transform="matrix(1 .0006 0 1 534.9000000000001 551.67)">Other diseases of urinary system</text><text transform="matrix(1 .0006 0 1 534.9000000000001 558.17)">Noninfective enteritis and colitis</text><text transform="matrix(1 .0006 0 1 534.9000000000001 564.67)">Other disorders of the nervous system</text><text transform="matrix(1 .0006 0 1 534.9000000000001 571.18)">Nerve, nerve root and plexus disorders</text><text transform="matrix(1 .0006 0 1 534.9000000000001 577.68)">Spondylopathies</text><text transform="matrix(1 .0006 0 1 534.9000000000001 584.19)">Other diseases of the digestive system</text><text transform="matrix(1 .0006 0 1 534.9000000000001 590.69)">Obesity and other hyperalimentation</text><text transform="matrix(1 .0006 0 1 534.9000000000001 597.19)">Disorders of lens</text><text transform="matrix(1 .0006 0 1 534.9000000000001 603.70)">Other diseases of intestines</text><text transform="matrix(1 .0006 0 1 534.9000000000001 610.20)">Other diseases of the respiratory system</text><text transform="matrix(1 .0006 0 1 534.9000000000001 616.71)">Disorders of choroid and retina</text><text transform="matrix(1 .0006 0 1 534.9000000000001 623.21)">Mental and behavioural disorders due to psychoactive substance use</text><text transform="matrix(1 .0006 0 1 534.9000000000001 629.71)">Renal failure</text><text transform="matrix(1 .0006 0 1 534.9000000000001 636.22)">Chronic lower respiratory diseases</text><text transform="matrix(1 .0006 0 1 534.9000000000001 642.72)">Inflammatory polyarthropathies</text><text transform="matrix(1 .0006 0 1 534.9000000000001 649.23)">Bacterial, viral and other infectious agents</text><text transform="matrix(1 .0006 0 1 534.9000000000001 655.73)">Arthropathies</text><text transform="matrix(1 .0006 0 1 534.9000000000001 662.23)">Hernia</text><text transform="matrix(1 .0006 0 1 534.9000000000001 668.74)">Diseases of oesophagus, stomach and duodenum</text><text transform="matrix(1 .0006 0 1 534.9000000000001 675.24)">Metabolic disorders</text><text transform="matrix(1 .0006 0 1 534.9000000000001 681.75)">Poor (Overall health rating)</text><text transform="matrix(1 .0006 0 1 534.9000000000001 688.25)">Fair (Overall health rating)</text><text transform="matrix(1 .0006 0 1 534.9000000000001 694.75)">Good (Overall health rating)</text><text transform="matrix(1 .0006 0 1 534.9000000000001 701.26)">Yes (Long−standing illness, disability or infirmity)</text><text transform="matrix(1 .0006 0 1 534.9000000000001 707.76)">Diabetes mellitus</text></g>
<path d="M536.3000000000001 361.10h1.9M536.3000000000001 367.60h1.9M536.3000000000001 374.11h1.9M536.3000000000001 380.61h1.9M536.3000000000001 387.12h1.9M536.3000000000001 393.62h1.9M536.3000000000001 400.12h1.9M536.3000000000001 406.63h1.9M536.3000000000001 413.13h1.9M536.3000000000001 419.64h1.9M536.3000000000001 426.14h1.9M536.3000000000001 432.64h1.9M536.3000000000001 439.15h1.9M536.3000000000001 445.65h1.9M536.3000000000001 452.16h1.9M536.3000000000001 458.66h1.9M536.3000000000001 465.16h1.9M536.3000000000001 471.67h1.9M536.3000000000001 478.17h1.9M536.3000000000001 484.68h1.9M536.3000000000001 491.18h1.9M536.3000000000001 497.68h1.9M536.3000000000001 504.19h1.9M536.3000000000001 510.69h1.9M536.3000000000001 517.20h1.9M536.3000000000001 523.70h1.9M536.3000000000001 530.20h1.9M536.3000000000001 536.71h1.9M536.3000000000001 543.21h1.9M536.3000000000001 549.72h1.9M536.3000000000001 556.22h1.9M536.3000000000001 562.72h1.9M536.3000000000001 569.23h1.9M536.3000000000001 575.73h1.9M536.3000000000001 582.24h1.9M536.3000000000001 588.74h1.9M536.3000000000001 595.24h1.9M536.3000000000001 601.75h1.9M536.3000000000001 608.25h1.9M536.3000000000001 614.76h1.9M536.3000000000001 621.26h1.9M536.3000000000001 627.76h1.9M536.3000000000001 634.27h1.9M536.3000000000001 640.77h1.9M536.3000000000001 647.28h1.9M536.3000000000001 653.78h1.9M536.3000000000001 660.28h1.9M536.3000000000001 666.79h1.9M536.3000000000001 673.29h1.9M536.3000000000001 679.80h1.9M536.3000000000001 686.30h1.9M536.3000000000001 692.80h1.9M536.3000000000001 699.31h1.9M536.3000000000001 705.81h1.9" stroke="#222" stroke-width="0.75"/>
<path d="M561.80 361.10H563.77M561.80 359.60v3M563.77 359.60v3M562.19 361.10a0.6 0.6 0 1 0 1.2 0a0.6 0.6 0 1 0 -1.2 0M562.39 367.60H565.94M562.39 366.10v3M565.94 366.10v3M563.57 367.60a0.6 0.6 0 1 0 1.2 0a0.6 0.6 0 1 0 -1.2 0M570.47 374.11H574.02M570.47 372.61v3M574.02 372.61v3M571.65 374.11a0.6 0.6 0 1 0 1.2 0a0.6 0.6 0 1 0 -1.2 0M573.43 380.61H576.19M573.43 379.11v3M576.19 379.11v3M574.21 380.61a0.6 0.6 0 1 0 1.2 0a0.6 0.6 0 1 0 -1.2 0M572.84 387.12H575.60M572.84 385.62v3M575.60 385.62v3M573.62 387.12a0.6 0.6 0 1 0 1.2 0a0.6 0.6 0 1 0 -1.2 0M575.80 393.62H578.16M575.80 392.12v3M578.16 392.12v3M576.38 393.62a0.6 0.6 0 1 0 1.2 0a0.6 0.6 0 1 0 -1.2 0M569.69 400.12H573.63M569.69 398.62v3M573.63 398.62v3M571.06 400.12a0.6 0.6 0 1 0 1.2 0a0.6 0.6 0 1 0 -1.2 0M574.42 406.63H577.57M574.42 405.13v3M577.57 405.13v3M575.39 406.63a0.6 0.6 0 1 0 1.2 0a0.6 0.6 0 1 0 -1.2 0M572.84 413.13H577.18M572.84 411.63v3M577.18 411.63v3M574.41 413.13a0.6 0.6 0 1 0 1.2 0a0.6 0.6 0 1 0 -1.2 0M572.05 419.64H576.78M572.05 418.14v3M576.78 418.14v3M573.82 419.64a0.6 0.6 0 1 0 1.2 0a0.6 0.6 0 1 0 -1.2 0M572.05 426.14H576.78M572.05 424.64v3M576.78 424.64v3M573.82 426.14a0.6 0.6 0 1 0 1.2 0a0.6 0.6 0 1 0 -1.2 0M574.22 432.64H580.53M574.22 431.14v3M580.53 431.14v3M576.77 432.64a0.6 0.6 0 1 0 1.2 0a0.6 0.6 0 1 0 -1.2 0M575.20 439.15H579.54M575.20 437.65v3M579.54 437.65v3M576.77 439.15a0.6 0.6 0 1 0 1.2 0a0.6 0.6 0 1 0 -1.2 0M571.07 445.65H575.80M571.07 444.15v3M575.80 444.15v3M572.83 445.65a0.6 0.6 0 1 0 1.2 0a0.6 0.6 0 1 0 -1.2 0M572.64 452.16H577.77M572.64 450.66v3M577.77 450.66v3M574.60 452.16a0.6 0.6 0 1 0 1.2 0a0.6 0.6 0 1 0 -1.2 0M574.42 458.66H579.15M574.42 457.16v3M579.15 457.16v3M576.18 458.66a0.6 0.6 0 1 0 1.2 0a0.6 0.6 0 1 0 -1.2 0M579.54 465.16H583.09M579.54 463.66v3M583.09 463.66v3M580.71 465.16a0.6 0.6 0 1 0 1.2 0a0.6 0.6 0 1 0 -1.2 0M571.26 471.67H574.81M571.26 470.17v3M574.81 470.17v3M572.44 471.67a0.6 0.6 0 1 0 1.2 0a0.6 0.6 0 1 0 -1.2 0M576.39 478.17H580.33M576.39 476.67v3M580.33 476.67v3M577.76 478.17a0.6 0.6 0 1 0 1.2 0a0.6 0.6 0 1 0 -1.2 0M572.05 484.68H576.78M572.05 483.18v3M576.78 483.18v3M573.82 484.68a0.6 0.6 0 1 0 1.2 0a0.6 0.6 0 1 0 -1.2 0M575.20 491.18H577.57M575.20 489.68v3M577.57 489.68v3M575.79 491.18a0.6 0.6 0 1 0 1.2 0a0.6 0.6 0 1 0 -1.2 0M575.20 497.68H578.75M575.20 496.18v3M578.75 496.18v3M576.38 497.68a0.6 0.6 0 1 0 1.2 0a0.6 0.6 0 1 0 -1.2 0M575.01 504.19H578.56M575.01 502.69v3M578.56 502.69v3M576.18 504.19a0.6 0.6 0 1 0 1.2 0a0.6 0.6 0 1 0 -1.2 0M571.85 510.69H577.37M571.85 509.19v3M577.37 509.19v3M574.01 510.69a0.6 0.6 0 1 0 1.2 0a0.6 0.6 0 1 0 -1.2 0M574.61 517.20H580.53M574.61 515.70v3M580.53 515.70v3M576.97 517.20a0.6 0.6 0 1 0 1.2 0a0.6 0.6 0 1 0 -1.2 0M577.57 523.70H582.30M577.57 522.20v3M582.30 522.20v3M579.33 523.70a0.6 0.6 0 1 0 1.2 0a0.6 0.6 0 1 0 -1.2 0M576.19 530.20H579.74M576.19 528.70v3M579.74 528.70v3M577.36 530.20a0.6 0.6 0 1 0 1.2 0a0.6 0.6 0 1 0 -1.2 0M572.64 536.71H579.74M572.64 535.21v3M579.74 535.21v3M575.59 536.71a0.6 0.6 0 1 0 1.2 0a0.6 0.6 0 1 0 -1.2 0M576.19 543.21H582.50M576.19 541.71v3M582.50 541.71v3M578.74 543.21a0.6 0.6 0 1 0 1.2 0a0.6 0.6 0 1 0 -1.2 0M575.40 549.72H578.56M575.40 548.22v3M578.56 548.22v3M576.38 549.72a0.6 0.6 0 1 0 1.2 0a0.6 0.6 0 1 0 -1.2 0M578.95 556.22H583.68M578.95 554.72v3M583.68 554.72v3M580.71 556.22a0.6 0.6 0 1 0 1.2 0a0.6 0.6 0 1 0 -1.2 0M577.18 562.72H584.66M577.18 561.22v3M584.66 561.22v3M580.32 562.72a0.6 0.6 0 1 0 1.2 0a0.6 0.6 0 1 0 -1.2 0M579.15 569.23H583.48M579.15 567.73v3M583.48 567.73v3M580.71 569.23a0.6 0.6 0 1 0 1.2 0a0.6 0.6 0 1 0 -1.2 0M578.36 575.73H582.69M578.36 574.23v3M582.69 574.23v3M579.93 575.73a0.6 0.6 0 1 0 1.2 0a0.6 0.6 0 1 0 -1.2 0M577.37 582.24H583.68M577.37 580.74v3M583.68 580.74v3M579.93 582.24a0.6 0.6 0 1 0 1.2 0a0.6 0.6 0 1 0 -1.2 0M585.45 588.74H591.76M585.45 587.24v3M591.76 587.24v3M588.01 588.74a0.6 0.6 0 1 0 1.2 0a0.6 0.6 0 1 0 -1.2 0M573.04 595.24H577.37M573.04 593.74v3M577.37 593.74v3M574.60 595.24a0.6 0.6 0 1 0 1.2 0a0.6 0.6 0 1 0 -1.2 0M575.80 601.75H578.56M575.80 600.25v3M578.56 600.25v3M576.58 601.75a0.6 0.6 0 1 0 1.2 0a0.6 0.6 0 1 0 -1.2 0M577.18 608.25H585.45M577.18 606.75v3M585.45 606.75v3M580.71 608.25a0.6 0.6 0 1 0 1.2 0a0.6 0.6 0 1 0 -1.2 0M574.61 614.76H580.53M574.61 613.26v3M580.53 613.26v3M576.97 614.76a0.6 0.6 0 1 0 1.2 0a0.6 0.6 0 1 0 -1.2 0M584.07 621.26H588.41M584.07 619.76v3M588.41 619.76v3M585.64 621.26a0.6 0.6 0 1 0 1.2 0a0.6 0.6 0 1 0 -1.2 0M584.27 627.76H592.15M584.27 626.26v3M592.15 626.26v3M587.61 627.76a0.6 0.6 0 1 0 1.2 0a0.6 0.6 0 1 0 -1.2 0M577.57 634.27H580.33M577.57 632.77v3M580.33 632.77v3M578.35 634.27a0.6 0.6 0 1 0 1.2 0a0.6 0.6 0 1 0 -1.2 0M578.75 640.77H582.30M578.75 639.27v3M582.30 639.27v3M579.93 640.77a0.6 0.6 0 1 0 1.2 0a0.6 0.6 0 1 0 -1.2 0M584.27 647.28H591.37M584.27 645.78v3M591.37 645.78v3M587.22 647.28a0.6 0.6 0 1 0 1.2 0a0.6 0.6 0 1 0 -1.2 0M576.58 653.78H579.34M576.58 652.28v3M579.34 652.28v3M577.36 653.78a0.6 0.6 0 1 0 1.2 0a0.6 0.6 0 1 0 -1.2 0M576.19 660.28H579.34M576.19 658.78v3M579.34 658.78v3M577.17 660.28a0.6 0.6 0 1 0 1.2 0a0.6 0.6 0 1 0 -1.2 0M581.31 666.79H584.07M581.31 665.29v3M584.07 665.29v3M582.09 666.79a0.6 0.6 0 1 0 1.2 0a0.6 0.6 0 1 0 -1.2 0M580.33 673.29H583.48M580.33 671.79v3M583.48 671.79v3M581.31 673.29a0.6 0.6 0 1 0 1.2 0a0.6 0.6 0 1 0 -1.2 0M647.14 679.80H660.54M647.14 678.30v3M660.54 678.30v3M653.24 679.80a0.6 0.6 0 1 0 1.2 0a0.6 0.6 0 1 0 -1.2 0M604.37 686.30H610.68M604.37 684.80v3M610.68 684.80v3M606.93 686.30a0.6 0.6 0 1 0 1.2 0a0.6 0.6 0 1 0 -1.2 0M579.15 692.80H582.69M579.15 691.30v3M582.69 691.30v3M580.32 692.80a0.6 0.6 0 1 0 1.2 0a0.6 0.6 0 1 0 -1.2 0M588.21 699.31H591.37M588.21 697.81v3M591.37 697.81v3M589.19 699.31a0.6 0.6 0 1 0 1.2 0a0.6 0.6 0 1 0 -1.2 0M595.90 705.81H600.63M595.90 704.31v3M600.63 704.31v3M597.66 705.81a0.6 0.6 0 1 0 1.2 0a0.6 0.6 0 1 0 -1.2 0" stroke="#dc2530" stroke-width="0.7" fill="#dc2530"/>
<rect x="353.5" y="709.06" width="184.70000000000005" height="65.04" fill="#e95f47" stroke="#3a3a3a" stroke-width="0.55"/>
<g font-size="6.12" font-weight="bold" text-anchor="end" fill="#544d4c" stroke="#544d4c" stroke-width="0.12"><text transform="matrix(1 .0006 0 1 534.9000000000001 714.27)">Peak expiratory flow</text><text transform="matrix(1 .0006 0 1 534.9000000000001 720.77)">Pulse rate</text><text transform="matrix(1 .0006 0 1 534.9000000000001 727.27)">Diastolic blood pressure</text><text transform="matrix(1 .0006 0 1 534.9000000000001 733.78)">Arm fat percentage</text><text transform="matrix(1 .0006 0 1 534.9000000000001 740.28)">Forced vital capacity</text><text transform="matrix(1 .0006 0 1 534.9000000000001 746.79)">Hand grip strength</text><text transform="matrix(1 .0006 0 1 534.9000000000001 753.29)">Forced expiratory volume in 1−second</text><text transform="matrix(1 .0006 0 1 534.9000000000001 759.79)">Body mass index</text><text transform="matrix(1 .0006 0 1 534.9000000000001 766.30)">Leg fat percentage</text><text transform="matrix(1 .0006 0 1 534.9000000000001 772.80)">Systolic blood pressure</text></g>
<path d="M536.3000000000001 712.32h1.9M536.3000000000001 718.82h1.9M536.3000000000001 725.32h1.9M536.3000000000001 731.83h1.9M536.3000000000001 738.33h1.9M536.3000000000001 744.84h1.9M536.3000000000001 751.34h1.9M536.3000000000001 757.84h1.9M536.3000000000001 764.35h1.9M536.3000000000001 770.85h1.9" stroke="#222" stroke-width="0.75"/>
<path d="M564.56 712.32H566.14M564.56 710.82v3M566.14 710.82v3M564.75 712.32a0.6 0.6 0 1 0 1.2 0a0.6 0.6 0 1 0 -1.2 0M572.45 718.82H573.63M572.45 717.32v3M573.63 717.32v3M572.44 718.82a0.6 0.6 0 1 0 1.2 0a0.6 0.6 0 1 0 -1.2 0M572.45 725.32H573.63M572.45 723.82v3M573.63 723.82v3M572.44 725.32a0.6 0.6 0 1 0 1.2 0a0.6 0.6 0 1 0 -1.2 0M586.64 731.83H589.79M586.64 730.33v3M589.79 730.33v3M587.61 731.83a0.6 0.6 0 1 0 1.2 0a0.6 0.6 0 1 0 -1.2 0M560.23 738.33H561.80M560.23 736.83v3M561.80 736.83v3M560.41 738.33a0.6 0.6 0 1 0 1.2 0a0.6 0.6 0 1 0 -1.2 0M561.21 744.84H562.79M561.21 743.34v3M562.79 743.34v3M561.40 744.84a0.6 0.6 0 1 0 1.2 0a0.6 0.6 0 1 0 -1.2 0M560.82 751.34H562.39M560.82 749.84v3M562.39 749.84v3M561.01 751.34a0.6 0.6 0 1 0 1.2 0a0.6 0.6 0 1 0 -1.2 0M578.16 757.84H579.74M578.16 756.34v3M579.74 756.34v3M578.35 757.84a0.6 0.6 0 1 0 1.2 0a0.6 0.6 0 1 0 -1.2 0M603.39 764.35H609.69M603.39 762.85v3M609.69 762.85v3M605.94 764.35a0.6 0.6 0 1 0 1.2 0a0.6 0.6 0 1 0 -1.2 0M574.22 770.85H575.80M574.22 769.35v3M575.80 769.35v3M574.41 770.85a0.6 0.6 0 1 0 1.2 0a0.6 0.6 0 1 0 -1.2 0" stroke="#e95f47" stroke-width="0.7" fill="#e95f47"/>
<rect x="353.5" y="774.10" width="184.70000000000005" height="136.80" fill="#f4955d" stroke="#3a3a3a" stroke-width="0.55"/>
<g font-size="6.12" font-weight="bold" text-anchor="end" fill="#55504d" stroke="#55504d" stroke-width="0.12"><text transform="matrix(1 .0006 0 1 534.9000000000001 779.31)">Rheumatoid factor</text><text transform="matrix(1 .0006 0 1 534.9000000000001 785.81)">Total bilirubin</text><text transform="matrix(1 .0006 0 1 534.9000000000001 792.31)">Platelet distribution width</text><text transform="matrix(1 .0006 0 1 534.9000000000001 798.82)">Vitamin D</text><text transform="matrix(1 .0006 0 1 534.9000000000001 805.32)">Lipoprotein A</text><text transform="matrix(1 .0006 0 1 534.9000000000001 811.83)">Platelet count</text><text transform="matrix(1 .0006 0 1 534.9000000000001 818.33)">Direct bilirubin</text><text transform="matrix(1 .0006 0 1 534.9000000000001 824.83)">Aspartate aminotransferase</text><text transform="matrix(1 .0006 0 1 534.9000000000001 831.34)">Eosinophill count</text><text transform="matrix(1 .0006 0 1 534.9000000000001 837.84)">Lymphocyte count</text><text transform="matrix(1 .0006 0 1 534.9000000000001 844.35)">Immature reticulocyte fraction</text><text transform="matrix(1 .0006 0 1 534.9000000000001 850.85)">IGF−1</text><text transform="matrix(1 .0006 0 1 534.9000000000001 857.35)">Alanine aminotransferase</text><text transform="matrix(1 .0006 0 1 534.9000000000001 863.86)">SHBG</text><text transform="matrix(1 .0006 0 1 534.9000000000001 870.36)">Basophill count</text><text transform="matrix(1 .0006 0 1 534.9000000000001 876.87)">Albumin</text><text transform="matrix(1 .0006 0 1 534.9000000000001 883.37)">Reticulocyte count</text><text transform="matrix(1 .0006 0 1 534.9000000000001 889.87)">Alkaline phosphatase</text><text transform="matrix(1 .0006 0 1 534.9000000000001 896.38)">Red blood cell (erythrocyte) distribution width</text><text transform="matrix(1 .0006 0 1 534.9000000000001 902.88)">High light scatter reticulocyte count</text><text transform="matrix(1 .0006 0 1 534.9000000000001 909.39)">LDL direct</text></g>
<path d="M536.3000000000001 777.36h1.9M536.3000000000001 783.86h1.9M536.3000000000001 790.36h1.9M536.3000000000001 796.87h1.9M536.3000000000001 803.37h1.9M536.3000000000001 809.88h1.9M536.3000000000001 816.38h1.9M536.3000000000001 822.88h1.9M536.3000000000001 829.39h1.9M536.3000000000001 835.89h1.9M536.3000000000001 842.40h1.9M536.3000000000001 848.90h1.9M536.3000000000001 855.40h1.9M536.3000000000001 861.91h1.9M536.3000000000001 868.41h1.9M536.3000000000001 874.92h1.9M536.3000000000001 881.42h1.9M536.3000000000001 887.92h1.9M536.3000000000001 894.43h1.9M536.3000000000001 900.93h1.9M536.3000000000001 907.44h1.9" stroke="#222" stroke-width="0.75"/>
<path d="M569.49 777.36H570.67M569.49 775.86v3M570.67 775.86v3M569.48 777.36a0.6 0.6 0 1 0 1.2 0a0.6 0.6 0 1 0 -1.2 0M567.32 783.86H568.50M567.32 782.36v3M568.50 782.36v3M567.31 783.86a0.6 0.6 0 1 0 1.2 0a0.6 0.6 0 1 0 -1.2 0M570.08 790.36H571.26M570.08 788.86v3M571.26 788.86v3M570.07 790.36a0.6 0.6 0 1 0 1.2 0a0.6 0.6 0 1 0 -1.2 0M564.56 796.87H565.74M564.56 795.37v3M565.74 795.37v3M564.55 796.87a0.6 0.6 0 1 0 1.2 0a0.6 0.6 0 1 0 -1.2 0M570.87 803.37H572.05M570.87 801.87v3M572.05 801.87v3M570.86 803.37a0.6 0.6 0 1 0 1.2 0a0.6 0.6 0 1 0 -1.2 0M570.47 809.88H571.66M570.47 808.38v3M571.66 808.38v3M570.47 809.88a0.6 0.6 0 1 0 1.2 0a0.6 0.6 0 1 0 -1.2 0M567.72 816.38H568.90M567.72 814.88v3M568.90 814.88v3M567.71 816.38a0.6 0.6 0 1 0 1.2 0a0.6 0.6 0 1 0 -1.2 0M569.49 822.88H570.67M569.49 821.38v3M570.67 821.38v3M569.48 822.88a0.6 0.6 0 1 0 1.2 0a0.6 0.6 0 1 0 -1.2 0M569.69 829.39H570.87M569.69 827.89v3M570.87 827.89v3M569.68 829.39a0.6 0.6 0 1 0 1.2 0a0.6 0.6 0 1 0 -1.2 0M569.29 835.89H570.47M569.29 834.39v3M570.47 834.39v3M569.28 835.89a0.6 0.6 0 1 0 1.2 0a0.6 0.6 0 1 0 -1.2 0M574.81 842.40H575.99M574.81 840.90v3M575.99 840.90v3M574.80 842.40a0.6 0.6 0 1 0 1.2 0a0.6 0.6 0 1 0 -1.2 0M566.34 848.90H567.52M566.34 847.40v3M567.52 847.40v3M566.33 848.90a0.6 0.6 0 1 0 1.2 0a0.6 0.6 0 1 0 -1.2 0M570.47 855.40H571.66M570.47 853.90v3M571.66 853.90v3M570.47 855.40a0.6 0.6 0 1 0 1.2 0a0.6 0.6 0 1 0 -1.2 0M564.96 861.91H566.14M564.96 860.41v3M566.14 860.41v3M564.95 861.91a0.6 0.6 0 1 0 1.2 0a0.6 0.6 0 1 0 -1.2 0M569.88 868.41H571.07M569.88 866.91v3M571.07 866.91v3M569.87 868.41a0.6 0.6 0 1 0 1.2 0a0.6 0.6 0 1 0 -1.2 0M565.74 874.92H566.93M565.74 873.42v3M566.93 873.42v3M565.74 874.92a0.6 0.6 0 1 0 1.2 0a0.6 0.6 0 1 0 -1.2 0M569.49 881.42H570.67M569.49 879.92v3M570.67 879.92v3M569.48 881.42a0.6 0.6 0 1 0 1.2 0a0.6 0.6 0 1 0 -1.2 0M571.66 887.92H572.84M571.66 886.42v3M572.84 886.42v3M571.65 887.92a0.6 0.6 0 1 0 1.2 0a0.6 0.6 0 1 0 -1.2 0M571.46 894.43H572.64M571.46 892.93v3M572.64 892.93v3M571.45 894.43a0.6 0.6 0 1 0 1.2 0a0.6 0.6 0 1 0 -1.2 0M571.46 900.93H572.64M571.46 899.43v3M572.64 899.43v3M571.45 900.93a0.6 0.6 0 1 0 1.2 0a0.6 0.6 0 1 0 -1.2 0M570.47 907.44H571.66M570.47 905.94v3M571.66 905.94v3M570.47 907.44a0.6 0.6 0 1 0 1.2 0a0.6 0.6 0 1 0 -1.2 0" stroke="#f4955d" stroke-width="0.7" fill="#f4955d"/>
<g fill="#fff" stroke="#6c6c6c" stroke-width="0.5"><rect x="539.2" y="358.10" width="13.5" height="6.00"/><rect x="539.2" y="364.60" width="13.5" height="6.00"/><rect x="539.2" y="371.11" width="13.5" height="6.00"/><rect x="539.2" y="377.61" width="13.5" height="6.00"/><rect x="539.2" y="384.11" width="13.5" height="6.00"/><rect x="539.2" y="390.62" width="13.5" height="6.00"/><rect x="539.2" y="397.12" width="13.5" height="6.00"/><rect x="539.2" y="403.63" width="13.5" height="6.00"/><rect x="539.2" y="410.13" width="13.5" height="6.00"/><rect x="539.2" y="416.63" width="13.5" height="6.00"/><rect x="539.2" y="423.14" width="13.5" height="6.00"/><rect x="539.2" y="429.64" width="13.5" height="6.00"/><rect x="539.2" y="436.15" width="13.5" height="6.00"/><rect x="539.2" y="442.65" width="13.5" height="6.00"/><rect x="539.2" y="449.15" width="13.5" height="6.00"/><rect x="539.2" y="455.66" width="13.5" height="6.00"/><rect x="539.2" y="462.16" width="13.5" height="6.00"/><rect x="539.2" y="468.67" width="13.5" height="6.00"/><rect x="539.2" y="475.17" width="13.5" height="6.00"/><rect x="539.2" y="481.67" width="13.5" height="6.00"/><rect x="539.2" y="488.18" width="13.5" height="6.00"/><rect x="539.2" y="494.68" width="13.5" height="6.00"/><rect x="539.2" y="501.19" width="13.5" height="6.00"/><rect x="539.2" y="507.69" width="13.5" height="6.00"/><rect x="539.2" y="514.19" width="13.5" height="6.00"/><rect x="539.2" y="520.70" width="13.5" height="6.00"/><rect x="539.2" y="527.20" width="13.5" height="6.00"/><rect x="539.2" y="533.71" width="13.5" height="6.00"/><rect x="539.2" y="540.21" width="13.5" height="6.00"/><rect x="539.2" y="546.71" width="13.5" height="6.00"/><rect x="539.2" y="553.22" width="13.5" height="6.00"/><rect x="539.2" y="559.72" width="13.5" height="6.00"/><rect x="539.2" y="566.23" width="13.5" height="6.00"/><rect x="539.2" y="572.73" width="13.5" height="6.00"/><rect x="539.2" y="579.23" width="13.5" height="6.00"/><rect x="539.2" y="585.74" width="13.5" height="6.00"/><rect x="539.2" y="592.24" width="13.5" height="6.00"/><rect x="539.2" y="598.75" width="13.5" height="6.00"/><rect x="539.2" y="605.25" width="13.5" height="6.00"/><rect x="539.2" y="611.75" width="13.5" height="6.00"/><rect x="539.2" y="618.26" width="13.5" height="6.00"/><rect x="539.2" y="624.76" width="13.5" height="6.00"/><rect x="539.2" y="631.27" width="13.5" height="6.00"/><rect x="539.2" y="637.77" width="13.5" height="6.00"/><rect x="539.2" y="644.27" width="13.5" height="6.00"/><rect x="539.2" y="650.78" width="13.5" height="6.00"/><rect x="539.2" y="657.28" width="13.5" height="6.00"/><rect x="539.2" y="663.79" width="13.5" height="6.00"/><rect x="539.2" y="670.29" width="13.5" height="6.00"/><rect x="539.2" y="676.79" width="13.5" height="6.00"/><rect x="539.2" y="683.30" width="13.5" height="6.00"/><rect x="539.2" y="689.80" width="13.5" height="6.00"/><rect x="539.2" y="696.31" width="13.5" height="6.00"/><rect x="539.2" y="702.81" width="13.5" height="6.00"/><rect x="539.2" y="709.31" width="13.5" height="6.00"/><rect x="539.2" y="715.82" width="13.5" height="6.00"/><rect x="539.2" y="722.32" width="13.5" height="6.00"/><rect x="539.2" y="728.83" width="13.5" height="6.00"/><rect x="539.2" y="735.33" width="13.5" height="6.00"/><rect x="539.2" y="741.83" width="13.5" height="6.00"/><rect x="539.2" y="748.34" width="13.5" height="6.00"/><rect x="539.2" y="754.84" width="13.5" height="6.00"/><rect x="539.2" y="761.35" width="13.5" height="6.00"/><rect x="539.2" y="767.85" width="13.5" height="6.00"/><rect x="539.2" y="774.35" width="13.5" height="6.00"/><rect x="539.2" y="780.86" width="13.5" height="6.00"/><rect x="539.2" y="787.36" width="13.5" height="6.00"/><rect x="539.2" y="793.87" width="13.5" height="6.00"/><rect x="539.2" y="800.37" width="13.5" height="6.00"/><rect x="539.2" y="806.87" width="13.5" height="6.00"/><rect x="539.2" y="813.38" width="13.5" height="6.00"/><rect x="539.2" y="819.88" width="13.5" height="6.00"/><rect x="539.2" y="826.39" width="13.5" height="6.00"/><rect x="539.2" y="832.89" width="13.5" height="6.00"/><rect x="539.2" y="839.39" width="13.5" height="6.00"/><rect x="539.2" y="845.90" width="13.5" height="6.00"/><rect x="539.2" y="852.40" width="13.5" height="6.00"/><rect x="539.2" y="858.91" width="13.5" height="6.00"/><rect x="539.2" y="865.41" width="13.5" height="6.00"/><rect x="539.2" y="871.91" width="13.5" height="6.00"/><rect x="539.2" y="878.42" width="13.5" height="6.00"/><rect x="539.2" y="884.92" width="13.5" height="6.00"/><rect x="539.2" y="891.43" width="13.5" height="6.00"/><rect x="539.2" y="897.93" width="13.5" height="6.00"/><rect x="539.2" y="904.43" width="13.5" height="6.00"/></g>
<g font-size="6.35" text-anchor="middle" fill="#303030" stroke="#303030" stroke-width="0.05"><text transform="matrix(1 .0006 0 1 545.95 363.10)">161</text><text transform="matrix(1 .0006 0 1 545.95 369.60)">159</text><text transform="matrix(1 .0006 0 1 545.95 376.11)">154</text><text transform="matrix(1 .0006 0 1 545.95 382.61)">152</text><text transform="matrix(1 .0006 0 1 545.95 389.12)">151</text><text transform="matrix(1 .0006 0 1 545.95 395.62)">145</text><text transform="matrix(1 .0006 0 1 545.95 402.12)">144</text><text transform="matrix(1 .0006 0 1 545.95 408.63)">140</text><text transform="matrix(1 .0006 0 1 545.95 415.13)">139</text><text transform="matrix(1 .0006 0 1 545.95 421.64)">137</text><text transform="matrix(1 .0006 0 1 545.95 428.14)">135</text><text transform="matrix(1 .0006 0 1 545.95 434.64)">134</text><text transform="matrix(1 .0006 0 1 545.95 441.15)">132</text><text transform="matrix(1 .0006 0 1 545.95 447.65)">130</text><text transform="matrix(1 .0006 0 1 545.95 454.16)">130</text><text transform="matrix(1 .0006 0 1 545.95 460.66)">129</text><text transform="matrix(1 .0006 0 1 545.95 467.16)">127</text><text transform="matrix(1 .0006 0 1 545.95 473.67)">125</text><text transform="matrix(1 .0006 0 1 545.95 480.17)">123</text><text transform="matrix(1 .0006 0 1 545.95 486.68)">121</text><text transform="matrix(1 .0006 0 1 545.95 493.18)">120</text><text transform="matrix(1 .0006 0 1 545.95 499.68)">119</text><text transform="matrix(1 .0006 0 1 545.95 506.19)">117</text><text transform="matrix(1 .0006 0 1 545.95 512.69)">116</text><text transform="matrix(1 .0006 0 1 545.95 519.20)">115</text><text transform="matrix(1 .0006 0 1 545.95 525.70)">114</text><text transform="matrix(1 .0006 0 1 545.95 532.20)">114</text><text transform="matrix(1 .0006 0 1 545.95 538.71)">112</text><text transform="matrix(1 .0006 0 1 545.95 545.21)">111</text><text transform="matrix(1 .0006 0 1 545.95 551.72)">110</text><text transform="matrix(1 .0006 0 1 545.95 558.22)">107</text><text transform="matrix(1 .0006 0 1 545.95 564.72)">107</text><text transform="matrix(1 .0006 0 1 545.95 571.23)">106</text><text transform="matrix(1 .0006 0 1 545.95 577.73)">104</text><text transform="matrix(1 .0006 0 1 545.95 584.24)">103</text><text transform="matrix(1 .0006 0 1 545.95 590.74)">102</text><text transform="matrix(1 .0006 0 1 545.95 597.24)">101</text><text transform="matrix(1 .0006 0 1 545.95 603.75)">100</text><text transform="matrix(1 .0006 0 1 545.95 610.25)">99</text><text transform="matrix(1 .0006 0 1 545.95 616.76)">98</text><text transform="matrix(1 .0006 0 1 545.95 623.26)">96</text><text transform="matrix(1 .0006 0 1 545.95 629.76)">87</text><text transform="matrix(1 .0006 0 1 545.95 636.27)">87</text><text transform="matrix(1 .0006 0 1 545.95 642.77)">81</text><text transform="matrix(1 .0006 0 1 545.95 649.28)">80</text><text transform="matrix(1 .0006 0 1 545.95 655.78)">54</text><text transform="matrix(1 .0006 0 1 545.95 662.28)">44</text><text transform="matrix(1 .0006 0 1 545.95 668.79)">25</text><text transform="matrix(1 .0006 0 1 545.95 675.29)">11</text><text transform="matrix(1 .0006 0 1 545.95 681.80)">4</text><text transform="matrix(1 .0006 0 1 545.95 688.30)">4</text><text transform="matrix(1 .0006 0 1 545.95 694.80)">4</text><text transform="matrix(1 .0006 0 1 545.95 701.31)">3</text><text transform="matrix(1 .0006 0 1 545.95 707.81)">1</text><text transform="matrix(1 .0006 0 1 545.95 714.32)">45</text><text transform="matrix(1 .0006 0 1 545.95 720.82)">39</text><text transform="matrix(1 .0006 0 1 545.95 727.32)">30</text><text transform="matrix(1 .0006 0 1 545.95 733.83)">28</text><text transform="matrix(1 .0006 0 1 545.95 740.33)">26</text><text transform="matrix(1 .0006 0 1 545.95 746.84)">23</text><text transform="matrix(1 .0006 0 1 545.95 753.34)">18</text><text transform="matrix(1 .0006 0 1 545.95 759.84)">13</text><text transform="matrix(1 .0006 0 1 545.95 766.35)">8</text><text transform="matrix(1 .0006 0 1 545.95 772.85)">5</text><text transform="matrix(1 .0006 0 1 545.95 779.36)">79</text><text transform="matrix(1 .0006 0 1 545.95 785.86)">75</text><text transform="matrix(1 .0006 0 1 545.95 792.36)">69</text><text transform="matrix(1 .0006 0 1 545.95 798.87)">66</text><text transform="matrix(1 .0006 0 1 545.95 805.37)">64</text><text transform="matrix(1 .0006 0 1 545.95 811.88)">63</text><text transform="matrix(1 .0006 0 1 545.95 818.38)">62</text><text transform="matrix(1 .0006 0 1 545.95 824.88)">61</text><text transform="matrix(1 .0006 0 1 545.95 831.39)">56</text><text transform="matrix(1 .0006 0 1 545.95 837.89)">53</text><text transform="matrix(1 .0006 0 1 545.95 844.40)">52</text><text transform="matrix(1 .0006 0 1 545.95 850.90)">50</text><text transform="matrix(1 .0006 0 1 545.95 857.40)">48</text><text transform="matrix(1 .0006 0 1 545.95 863.91)">47</text><text transform="matrix(1 .0006 0 1 545.95 870.41)">47</text><text transform="matrix(1 .0006 0 1 545.95 876.92)">44</text><text transform="matrix(1 .0006 0 1 545.95 883.42)">43</text><text transform="matrix(1 .0006 0 1 545.95 889.92)">41</text><text transform="matrix(1 .0006 0 1 545.95 896.43)">37</text><text transform="matrix(1 .0006 0 1 545.95 902.93)">36</text><text transform="matrix(1 .0006 0 1 545.95 909.44)">32</text></g>
<rect x="555.4" y="357.6" width="109.60000000000002" height="553.3" fill="none" stroke="#555" stroke-width="0.7"/>
<path d="M569.50 910.9v1.6M597.45 910.9v1.6M625.40 910.9v1.6M653.35 910.9v1.6M545.95 910.9v1.6" stroke="#333" stroke-width="0.5"/>
<text transform="matrix(1 .0006 0 1 569.50 919)" font-size="6.3" text-anchor="middle" fill="#222">1</text>
<text transform="matrix(1 .0006 0 1 597.45 919)" font-size="6.3" text-anchor="middle" fill="#222">2</text>
<text transform="matrix(1 .0006 0 1 625.40 919)" font-size="6.3" text-anchor="middle" fill="#222">3</text>
<text transform="matrix(1 .0006 0 1 653.35 919)" font-size="6.3" text-anchor="middle" fill="#222">4</text>
<text transform="matrix(1 .0006 0 1 546.0 919)" font-size="6.3" text-anchor="middle" fill="#111">Rank</text>
<text transform="matrix(1 .0006 0 1 552.8 927.3)" font-size="7.45" fill="#111">Hazard ratio (95% confidence interval)</text>
</g>
</g></svg>
</body></html>
